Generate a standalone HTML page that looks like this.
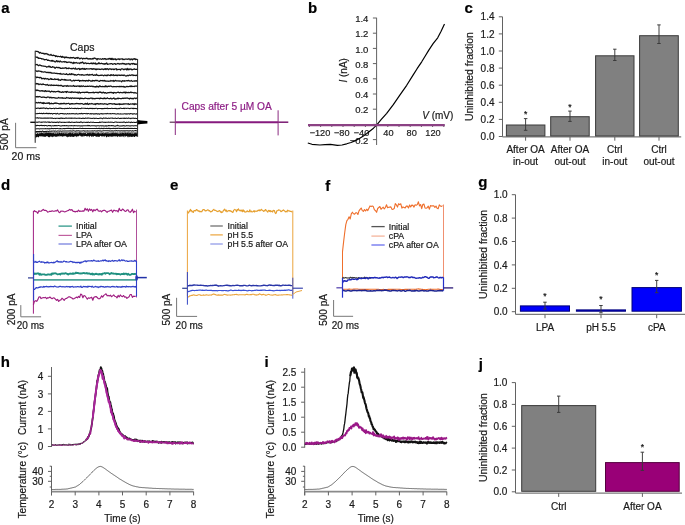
<!DOCTYPE html>
<html><head><meta charset="utf-8"><style>
html,body{margin:0;padding:0;background:#fff;width:685px;height:525px;overflow:hidden}
svg{display:block;filter:blur(0.35px)}
text{font-family:"Liberation Sans",sans-serif;stroke-width:0.2px}
</style></head><body>
<svg width="685" height="525" viewBox="0 0 685 525">
<rect width="685" height="525" fill="#fff"/>
<text x="1.2" y="13" font-size="15" text-anchor="start" fill="#000" stroke="#000" font-weight="bold">a</text>
<text x="308.1" y="12.6" font-size="15" text-anchor="start" fill="#000" stroke="#000" font-weight="bold">b</text>
<text x="464.6" y="12.6" font-size="15" text-anchor="start" fill="#000" stroke="#000" font-weight="bold">c</text>
<text x="0.9" y="189.6" font-size="15" text-anchor="start" fill="#000" stroke="#000" font-weight="bold">d</text>
<text x="169.9" y="190.1" font-size="15" text-anchor="start" fill="#000" stroke="#000" font-weight="bold">e</text>
<text x="325.2" y="190.6" font-size="15" text-anchor="start" fill="#000" stroke="#000" font-weight="bold">f</text>
<text x="478.2" y="187.3" font-size="15" text-anchor="start" fill="#000" stroke="#000" font-weight="bold">g</text>
<text x="0.8" y="367.2" font-size="15" text-anchor="start" fill="#000" stroke="#000" font-weight="bold">h</text>
<text x="264.6" y="367.3" font-size="15" text-anchor="start" fill="#000" stroke="#000" font-weight="bold">i</text>
<text x="478.7" y="369.1" font-size="15" text-anchor="start" fill="#000" stroke="#000" font-weight="bold">j</text>
<path d="M35.3,51 35.9,51.3 36.5,51.3 37.1,51.3 37.7,51.7 38.3,51.7 38.9,52.3 39.5,53 40.1,52.4 40.7,52.6 41.3,53.2 41.9,53.3 42.5,53.4 43.1,53.1 43.7,53.7 44.3,54.1 44.9,53.4 45.5,53.9 46.1,53.5 46.7,53.9 47.3,53.8 47.9,54.6 48.5,54.3 49.1,55 49.7,55.1 50.3,55.1 50.9,54.3 51.5,55.2 52.1,55.5 52.7,55.6 53.3,55.1 53.9,55.6 54.5,55.5 55.1,55.7 55.7,56.5 56.3,55.8 56.9,56.2 57.5,56.7 58.1,56.2 58.7,56.5 59.3,56.6 59.9,56.7 60.5,56.2 61.1,56.8 61.7,57.4 62.3,56.3 62.9,57.3 63.5,57.1 64.1,56.9 64.7,58 65.3,57.6 65.9,56.8 66.5,57.4 67.1,57.7 67.7,57.4 68.3,57.8 68.9,57.5 69.5,57.9 70.1,58.2 70.7,57.4 71.3,57.8 71.9,57.6 72.5,57.9 73.1,57.4 73.7,57.7 74.3,57.9 74.9,58.4 75.5,58.5 76.1,57.6 76.7,57.8 77.3,58.4 77.9,57.4 78.5,58 79.1,58.2 79.7,58.8 80.3,58.6 80.9,58.2 81.5,58.2 82.1,58.3 82.7,59 83.3,58.3 83.9,58.4 84.5,58.6 85.1,58.5 85.7,58.5 86.3,58.1 86.9,58.6 87.5,58.4 88.1,59.1 88.7,58.9 89.3,58.7 89.9,59 90.5,58.6 91.1,59.2 91.7,58.8 92.3,59 92.9,58.3 93.5,58.9 94.1,58.1 94.7,58 95.3,58.7 95.9,58.5 96.5,58.9 97.1,59.8 97.7,58.6 98.3,58.7 98.9,59 99.5,59.1 100.1,58.9 100.7,58.9 101.3,59.3 101.9,59.2 102.5,58.6 103.1,59 103.7,59 104.3,58.6 104.9,59.1 105.5,58.7 106.1,59.5 106.7,59.1 107.3,59.1 107.9,58.9 108.5,59.1 109.1,58.3 109.7,58.7 110.3,59.3 110.9,58.3 111.5,59.5 112.1,58.4 112.7,59.5 113.3,58.8 113.9,59.5 114.5,59.2 115.1,58.6 115.7,59.7 116.3,59.8 116.9,59.2 117.5,59.1 118.1,59.1 118.7,58.8 119.3,59.7 119.9,59 120.5,59.2 121.1,58.9 121.7,59 122.3,58.7 122.9,59.7 123.5,59.2 124.1,59.6 124.7,59.3 125.3,59 125.9,59.1 126.5,59 127.1,59.3 127.7,59.1 128.3,59.2 128.9,58.7 129.5,59 130.1,59.9 130.7,59 131.3,58.9 131.9,59.4 132.5,59.9 133.1,58.7 133.7,59.2 134.3,59.1 134.9,58.6 135.5,59.6 136.1,59.3 136.7,59.3 137.3,59" fill="none" stroke="#151515" stroke-width="1.25" stroke-linejoin="round"/>
<path d="M35.3,57.2 35.9,57 36.5,57.3 37.1,57.1 37.7,57.3 38.3,58.4 38.9,57.9 39.5,58.3 40.1,58.4 40.7,58.4 41.3,58.5 41.9,59.1 42.5,58.8 43.1,59 43.7,59.2 44.3,59.8 44.9,59.7 45.5,59.7 46.1,59.5 46.7,59.3 47.3,60.3 47.9,60.4 48.5,60.1 49.1,60.5 49.7,60.7 50.3,60.8 50.9,60.9 51.5,60.5 52.1,61.3 52.7,60.4 53.3,61.2 53.9,61.2 54.5,61.4 55.1,61.9 55.7,61.8 56.3,60.9 56.9,60.7 57.5,61.8 58.1,61.1 58.7,61.6 59.3,62 59.9,61.1 60.5,61 61.1,61.9 61.7,61.9 62.3,61.9 62.9,62 63.5,61.7 64.1,61.5 64.7,62.1 65.3,61.8 65.9,61.6 66.5,62.5 67.1,62.3 67.7,62.5 68.3,62.1 68.9,62.2 69.5,62.1 70.1,62.2 70.7,62.7 71.3,62.3 71.9,62.8 72.5,62.8 73.1,63.5 73.7,62.2 74.3,63.1 74.9,62.8 75.5,62.9 76.1,62.4 76.7,62.8 77.3,63.2 77.9,63 78.5,63 79.1,62.9 79.7,63.5 80.3,63.1 80.9,62.3 81.5,62.9 82.1,62.4 82.7,62 83.3,63 83.9,63.7 84.5,63.3 85.1,62.8 85.7,62.9 86.3,63.7 86.9,63.4 87.5,63.4 88.1,63.3 88.7,63.4 89.3,63.7 89.9,63.6 90.5,63.5 91.1,63 91.7,63.7 92.3,63.2 92.9,63.9 93.5,63 94.1,63.5 94.7,63.5 95.3,63 95.9,64.2 96.5,64.1 97.1,63.4 97.7,63.9 98.3,63.7 98.9,62.6 99.5,63.7 100.1,63.6 100.7,63.7 101.3,63.2 101.9,63.6 102.5,63.6 103.1,64.1 103.7,63.8 104.3,63.7 104.9,64.3 105.5,63.5 106.1,63.6 106.7,63 107.3,64.3 107.9,64.1 108.5,64.1 109.1,64 109.7,63.8 110.3,63.9 110.9,63.7 111.5,63.7 112.1,63.8 112.7,64.4 113.3,64 113.9,63.8 114.5,63.6 115.1,63.6 115.7,64.4 116.3,64 116.9,63.9 117.5,63.7 118.1,63.4 118.7,63.8 119.3,64.2 119.9,63.7 120.5,63.8 121.1,63.8 121.7,63.9 122.3,63.3 122.9,63.8 123.5,63.5 124.1,64.2 124.7,63.6 125.3,64.1 125.9,64.5 126.5,63.8 127.1,63.7 127.7,64 128.3,63.9 128.9,63.5 129.5,64.1 130.1,64.7 130.7,63.8 131.3,63.8 131.9,63.5 132.5,64 133.1,63.4 133.7,63.5 134.3,64.4 134.9,63.6 135.5,64.3 136.1,64.5 136.7,64 137.3,64.1" fill="none" stroke="#151515" stroke-width="1.25" stroke-linejoin="round"/>
<path d="M35.3,65.2 35.9,64.6 36.5,64.6 37.1,64.4 37.7,65 38.3,65.7 38.9,65.6 39.5,65 40.1,65.2 40.7,65.4 41.3,65.8 41.9,65.7 42.5,66 43.1,66.1 43.7,66 44.3,66.2 44.9,66.3 45.5,66.3 46.1,66.6 46.7,67.2 47.3,66.8 47.9,66.7 48.5,66.1 49.1,67 49.7,66.2 50.3,66.5 50.9,67.3 51.5,67.4 52.1,67.1 52.7,66.6 53.3,67.2 53.9,67.1 54.5,67.6 55.1,68.3 55.7,67.6 56.3,67.3 56.9,67.2 57.5,67.7 58.1,67.7 58.7,67.4 59.3,67.9 59.9,67.5 60.5,68.3 61.1,68.3 61.7,68.4 62.3,67.9 62.9,68.3 63.5,68.1 64.1,68 64.7,68.1 65.3,67.8 65.9,67.7 66.5,68.6 67.1,68.3 67.7,68.4 68.3,68.7 68.9,67.8 69.5,68.2 70.1,68.5 70.7,68.6 71.3,68.4 71.9,68.9 72.5,68.7 73.1,68.2 73.7,68.3 74.3,68.9 74.9,68.8 75.5,68 76.1,69.2 76.7,69 77.3,69.2 77.9,68.6 78.5,68.7 79.1,68.4 79.7,69.7 80.3,68.8 80.9,69.4 81.5,68.7 82.1,69 82.7,68.3 83.3,68.8 83.9,69.3 84.5,68.5 85.1,69.4 85.7,69.1 86.3,68.6 86.9,68.8 87.5,68.9 88.1,69 88.7,68.9 89.3,68.8 89.9,69 90.5,68.7 91.1,68.6 91.7,69.1 92.3,69.4 92.9,68.6 93.5,69.1 94.1,68.9 94.7,68.8 95.3,69.5 95.9,69 96.5,69.7 97.1,68.9 97.7,69.3 98.3,69.1 98.9,69 99.5,69.4 100.1,69.2 100.7,69.5 101.3,69.2 101.9,68.9 102.5,69.2 103.1,69.3 103.7,69.6 104.3,69 104.9,69.3 105.5,68.7 106.1,69.5 106.7,68.9 107.3,68.7 107.9,69.3 108.5,69.7 109.1,68.8 109.7,68.9 110.3,69.1 110.9,68.9 111.5,69.5 112.1,69.1 112.7,69.1 113.3,69.6 113.9,69.1 114.5,69.5 115.1,69 115.7,68.9 116.3,68.7 116.9,70 117.5,69.3 118.1,69.5 118.7,69.4 119.3,69.4 119.9,69.4 120.5,70.1 121.1,69 121.7,68.8 122.3,69 122.9,68.9 123.5,69.7 124.1,69.7 124.7,69.1 125.3,68.9 125.9,69.3 126.5,69.9 127.1,68.4 127.7,69.6 128.3,69 128.9,69.8 129.5,69 130.1,69.3 130.7,68.9 131.3,69.1 131.9,69.9 132.5,69.7 133.1,69.3 133.7,69.1 134.3,68.8 134.9,69.3 135.5,69.4 136.1,69.4 136.7,69.4 137.3,69" fill="none" stroke="#151515" stroke-width="1.25" stroke-linejoin="round"/>
<path d="M35.3,70.5 35.9,70.6 36.5,71.2 37.1,71.5 37.7,71 38.3,70.9 38.9,71.2 39.5,71.1 40.1,71.2 40.7,71.5 41.3,71.3 41.9,72 42.5,71.8 43.1,72 43.7,72 44.3,71.9 44.9,71.9 45.5,72.2 46.1,72.2 46.7,72.6 47.3,72.6 47.9,72.2 48.5,72.7 49.1,72.3 49.7,72.6 50.3,72.8 50.9,72.3 51.5,73.1 52.1,73.2 52.7,73.1 53.3,73.1 53.9,73.2 54.5,73 55.1,73.3 55.7,73.3 56.3,73.5 56.9,73.2 57.5,73.7 58.1,73.7 58.7,73.7 59.3,73.6 59.9,74 60.5,73.3 61.1,74 61.7,74 62.3,74.1 62.9,74.1 63.5,73.8 64.1,74 64.7,74.3 65.3,74.3 65.9,74.3 66.5,73.7 67.1,74.4 67.7,74.7 68.3,74.6 68.9,74.4 69.5,73.8 70.1,74.7 70.7,74.4 71.3,73.6 71.9,74.6 72.5,74 73.1,74.1 73.7,74.3 74.3,75 74.9,74.5 75.5,74.7 76.1,75.2 76.7,75.2 77.3,74.6 77.9,74.6 78.5,74.3 79.1,74.5 79.7,74.9 80.3,74.9 80.9,74.8 81.5,75.1 82.1,74.6 82.7,74.8 83.3,75.1 83.9,75.1 84.5,75.2 85.1,75 85.7,74.8 86.3,75 86.9,74.6 87.5,74.4 88.1,75.2 88.7,74.9 89.3,75.1 89.9,74.4 90.5,74.9 91.1,74.8 91.7,74.7 92.3,74.3 92.9,74.9 93.5,75.4 94.1,75.2 94.7,74.9 95.3,75.1 95.9,75.3 96.5,74.2 97.1,75.1 97.7,75.3 98.3,75.4 98.9,75.7 99.5,75.5 100.1,75.2 100.7,75.3 101.3,75.4 101.9,75 102.5,75.2 103.1,75.5 103.7,75.8 104.3,75.1 104.9,75.2 105.5,75.3 106.1,75.7 106.7,75.2 107.3,75.7 107.9,74.9 108.5,75.2 109.1,75.2 109.7,75.5 110.3,75.6 110.9,74.7 111.5,74.9 112.1,75.4 112.7,75 113.3,74.7 113.9,75.6 114.5,75.4 115.1,75.4 115.7,75.1 116.3,75.6 116.9,75.2 117.5,75.7 118.1,75 118.7,75 119.3,75.4 119.9,75.1 120.5,75.5 121.1,75.4 121.7,75 122.3,75.3 122.9,75.2 123.5,75.6 124.1,75.1 124.7,75.2 125.3,75.7 125.9,76.1 126.5,76 127.1,75.3 127.7,75.4 128.3,75.8 128.9,75.3 129.5,75 130.1,75.4 130.7,75.5 131.3,75.1 131.9,74.8 132.5,74.9 133.1,75.6 133.7,75.1 134.3,75.3 134.9,75.4 135.5,75.6 136.1,75.2 136.7,75.5 137.3,75" fill="none" stroke="#151515" stroke-width="1.25" stroke-linejoin="round"/>
<path d="M35.3,76.9 35.9,76.8 36.5,77.6 37.1,77.3 37.7,77.2 38.3,77.4 38.9,77.5 39.5,77.9 40.1,77.3 40.7,77.6 41.3,77.9 41.9,78.9 42.5,78.5 43.1,78.2 43.7,78.5 44.3,79 44.9,78.4 45.5,78.4 46.1,79 46.7,78.8 47.3,78.9 47.9,78.6 48.5,79.5 49.1,79.5 49.7,79.2 50.3,79.2 50.9,78.4 51.5,79.3 52.1,79.1 52.7,79.4 53.3,79.5 53.9,79.2 54.5,78.8 55.1,79.6 55.7,79.2 56.3,79.4 56.9,79.4 57.5,79.5 58.1,78.9 58.7,80.1 59.3,79.8 59.9,80.1 60.5,80.4 61.1,79.8 61.7,79.3 62.3,79.6 62.9,79.5 63.5,79.8 64.1,80 64.7,79.4 65.3,80.2 65.9,79.6 66.5,80.2 67.1,80.1 67.7,80.1 68.3,80.2 68.9,80 69.5,80 70.1,79.7 70.7,80.3 71.3,80.9 71.9,81 72.5,80.8 73.1,80.6 73.7,80.2 74.3,80.9 74.9,80.4 75.5,80.4 76.1,80.4 76.7,80.5 77.3,80.4 77.9,80.5 78.5,80.2 79.1,80.4 79.7,81.3 80.3,80.5 80.9,80.5 81.5,80.8 82.1,80.8 82.7,80.3 83.3,80.6 83.9,80.9 84.5,80.7 85.1,80.7 85.7,81.2 86.3,80.5 86.9,80.7 87.5,80.6 88.1,81.2 88.7,80.1 89.3,80.5 89.9,80.6 90.5,81 91.1,81 91.7,81.2 92.3,80.3 92.9,81 93.5,80.7 94.1,80.6 94.7,81 95.3,80.5 95.9,80.2 96.5,80.7 97.1,80.4 97.7,80.7 98.3,81 98.9,81 99.5,81.4 100.1,80.8 100.7,80.4 101.3,80.7 101.9,80.6 102.5,80.5 103.1,81.1 103.7,80.7 104.3,80.3 104.9,81.1 105.5,80.9 106.1,81.1 106.7,81 107.3,81.1 107.9,81 108.5,81.3 109.1,81.1 109.7,81.1 110.3,81.1 110.9,80.5 111.5,80.9 112.1,80.9 112.7,81 113.3,80.5 113.9,81.5 114.5,81 115.1,80.6 115.7,80.4 116.3,80.9 116.9,81 117.5,80.8 118.1,81 118.7,80.8 119.3,81.2 119.9,80.8 120.5,81 121.1,81.3 121.7,81.8 122.3,80.7 122.9,80.9 123.5,80.8 124.1,81.3 124.7,80.7 125.3,80.9 125.9,81 126.5,80.7 127.1,80.7 127.7,80.9 128.3,80.4 128.9,80.6 129.5,80.9 130.1,81.1 130.7,81 131.3,80.5 131.9,80.9 132.5,81.3 133.1,81.2 133.7,81 134.3,80.8 134.9,81.3 135.5,80.9 136.1,80.7 136.7,80.8 137.3,81.5" fill="none" stroke="#151515" stroke-width="1.25" stroke-linejoin="round"/>
<path d="M35.3,83.6 35.9,83.9 36.5,83.5 37.1,84 37.7,83.6 38.3,83.8 38.9,84.7 39.5,84.3 40.1,84 40.7,84.1 41.3,84.3 41.9,84.7 42.5,84.2 43.1,83.9 43.7,84.4 44.3,84.5 44.9,84.6 45.5,85 46.1,84.8 46.7,85 47.3,84.5 47.9,85.1 48.5,85.5 49.1,85.2 49.7,85.1 50.3,85.1 50.9,85.6 51.5,84.8 52.1,85.1 52.7,85.3 53.3,85.5 53.9,85.1 54.5,85.4 55.1,85.3 55.7,85.4 56.3,85.4 56.9,85.1 57.5,85.5 58.1,85.8 58.7,85.2 59.3,85.5 59.9,85.8 60.5,85.3 61.1,85.7 61.7,85.3 62.3,86 62.9,86.4 63.5,86.3 64.1,85.7 64.7,86 65.3,85.8 65.9,85.9 66.5,86.3 67.1,85.5 67.7,86.2 68.3,85.9 68.9,86.3 69.5,86 70.1,85.8 70.7,86.1 71.3,86.2 71.9,86 72.5,86.2 73.1,85.9 73.7,85.4 74.3,86.3 74.9,86.3 75.5,86.1 76.1,86.1 76.7,86.4 77.3,86 77.9,85.9 78.5,86.1 79.1,86.5 79.7,85.8 80.3,86.6 80.9,86 81.5,85.9 82.1,86.6 82.7,86.2 83.3,85.9 83.9,86.2 84.5,86.5 85.1,86.6 85.7,86.2 86.3,86.4 86.9,86.5 87.5,86.1 88.1,86.4 88.7,86.3 89.3,86.2 89.9,86.2 90.5,86.4 91.1,86.4 91.7,86.2 92.3,86.2 92.9,86.7 93.5,86.4 94.1,86.7 94.7,86.8 95.3,86.6 95.9,87.1 96.5,86.2 97.1,86.7 97.7,86.3 98.3,87 98.9,86.9 99.5,85.8 100.1,86.1 100.7,86.6 101.3,86.7 101.9,86.7 102.5,86.4 103.1,86.6 103.7,86.7 104.3,86.4 104.9,86.8 105.5,85.8 106.1,86.7 106.7,86.2 107.3,86.8 107.9,86.4 108.5,86.2 109.1,86.6 109.7,86.2 110.3,86.2 110.9,86 111.5,86.5 112.1,86.7 112.7,86.8 113.3,86.5 113.9,86.8 114.5,86.5 115.1,86.5 115.7,86.7 116.3,86.8 116.9,86.4 117.5,86.5 118.1,86.5 118.7,86.6 119.3,86.3 119.9,86.8 120.5,86.4 121.1,86.7 121.7,86.3 122.3,86.6 122.9,86.7 123.5,86.4 124.1,87.2 124.7,86.7 125.3,87.1 125.9,86.8 126.5,86.4 127.1,86.4 127.7,86.7 128.3,86.6 128.9,86.6 129.5,86.5 130.1,86 130.7,86.5 131.3,85.9 131.9,86.7 132.5,86.3 133.1,86.3 133.7,86.5 134.3,86.6 134.9,86.1 135.5,86 136.1,86.2 136.7,86 137.3,86.3" fill="none" stroke="#151515" stroke-width="1.25" stroke-linejoin="round"/>
<path d="M35.3,90.6 35.9,90 36.5,90.5 37.1,90 37.7,90.5 38.3,90.4 38.9,90.6 39.5,90.8 40.1,91.2 40.7,90.8 41.3,90.8 41.9,90.6 42.5,91.1 43.1,90.9 43.7,91.2 44.3,91 44.9,91.6 45.5,90.6 46.1,91.1 46.7,91.5 47.3,91.2 47.9,91.1 48.5,91.3 49.1,91 49.7,91.4 50.3,92.1 50.9,91.8 51.5,91.2 52.1,91.3 52.7,91.5 53.3,91.9 53.9,91.4 54.5,91.5 55.1,91.9 55.7,92 56.3,91.6 56.9,91.5 57.5,91.4 58.1,91.6 58.7,91.2 59.3,92.1 59.9,91.7 60.5,92 61.1,92.4 61.7,92.3 62.3,91.6 62.9,92.2 63.5,92.3 64.1,91.8 64.7,91.8 65.3,92 65.9,91.6 66.5,92.5 67.1,91.4 67.7,91.8 68.3,92.1 68.9,92.1 69.5,92.2 70.1,92.3 70.7,92.1 71.3,92.5 71.9,91.6 72.5,92.2 73.1,92.1 73.7,92.3 74.3,92.3 74.9,92 75.5,92.1 76.1,92.5 76.7,92.4 77.3,92.1 77.9,92.9 78.5,93 79.1,91.9 79.7,92.5 80.3,93.1 80.9,92.6 81.5,92.5 82.1,92.3 82.7,92.3 83.3,92.4 83.9,92.3 84.5,92.6 85.1,92.3 85.7,92.3 86.3,92.1 86.9,92.4 87.5,92.2 88.1,92.4 88.7,92.8 89.3,92.6 89.9,92.6 90.5,92.6 91.1,92.5 91.7,92.5 92.3,92.4 92.9,92.7 93.5,92.2 94.1,92.9 94.7,92.5 95.3,92.3 95.9,92.4 96.5,92.4 97.1,92.6 97.7,92.4 98.3,92.9 98.9,92.3 99.5,91.9 100.1,92.4 100.7,92 101.3,92.6 101.9,92.9 102.5,92.8 103.1,92.2 103.7,92.4 104.3,93.1 104.9,92.7 105.5,92.6 106.1,92.9 106.7,93.3 107.3,93 107.9,92.6 108.5,92.7 109.1,92.8 109.7,92.4 110.3,92.3 110.9,92.6 111.5,92.4 112.1,92.6 112.7,92.7 113.3,93.3 113.9,92.4 114.5,92.6 115.1,92.6 115.7,92.8 116.3,92.9 116.9,92.5 117.5,92.4 118.1,92.2 118.7,92.4 119.3,92.8 119.9,92.7 120.5,92.4 121.1,92.5 121.7,92.7 122.3,92.8 122.9,92.5 123.5,92.6 124.1,92.1 124.7,92.3 125.3,93.1 125.9,92 126.5,92.6 127.1,92.7 127.7,92.6 128.3,92.4 128.9,92.6 129.5,92.7 130.1,92.6 130.7,92.1 131.3,92.6 131.9,92.4 132.5,92.5 133.1,92.7 133.7,92.9 134.3,92.9 134.9,92.5 135.5,92.9 136.1,93 136.7,93 137.3,93.1" fill="none" stroke="#151515" stroke-width="1.25" stroke-linejoin="round"/>
<path d="M35.3,96.6 35.9,96.6 36.5,96.9 37.1,96.4 37.7,96.9 38.3,96.7 38.9,96.8 39.5,96.5 40.1,96.7 40.7,97 41.3,97.3 41.9,97.3 42.5,97.1 43.1,97.1 43.7,97 44.3,97.3 44.9,97.2 45.5,97.5 46.1,97.8 46.7,97.4 47.3,97 47.9,97.2 48.5,97.1 49.1,97.2 49.7,97.9 50.3,97.6 50.9,97.2 51.5,97.8 52.1,97.9 52.7,97.5 53.3,97.5 53.9,97.6 54.5,97.8 55.1,97.9 55.7,98.1 56.3,98.1 56.9,98.1 57.5,98.2 58.1,98 58.7,97.4 59.3,97.8 59.9,98 60.5,97.8 61.1,98.1 61.7,97.8 62.3,97.7 62.9,98.3 63.5,98.1 64.1,98 64.7,98.2 65.3,98.3 65.9,98.1 66.5,97.4 67.1,97.9 67.7,97.9 68.3,97.8 68.9,98.1 69.5,98.4 70.1,98 70.7,97.8 71.3,98.7 71.9,98 72.5,97.8 73.1,98.2 73.7,98.3 74.3,98 74.9,98.4 75.5,98.1 76.1,98 76.7,98.3 77.3,98.4 77.9,98.1 78.5,98.3 79.1,98.2 79.7,99 80.3,98.1 80.9,98.6 81.5,98.3 82.1,98.2 82.7,98.5 83.3,98.5 83.9,98.6 84.5,98.4 85.1,98.1 85.7,98.2 86.3,98.4 86.9,98.5 87.5,98.7 88.1,98.4 88.7,98.6 89.3,98.7 89.9,98.4 90.5,98 91.1,98 91.7,98 92.3,98.8 92.9,98.1 93.5,98.7 94.1,98.5 94.7,98.8 95.3,98.6 95.9,98.4 96.5,98.3 97.1,98.4 97.7,98.4 98.3,98.3 98.9,98.4 99.5,98.8 100.1,98 100.7,98.5 101.3,98.2 101.9,98.5 102.5,98.6 103.1,98.4 103.7,98.6 104.3,98 104.9,98.7 105.5,98.3 106.1,98.6 106.7,98.5 107.3,97.8 107.9,98.2 108.5,98.5 109.1,98.8 109.7,98.5 110.3,98.5 110.9,98.1 111.5,98.8 112.1,98.9 112.7,98.5 113.3,98.4 113.9,98 114.5,98.7 115.1,99.2 115.7,98.6 116.3,98.8 116.9,98.6 117.5,98.2 118.1,98.8 118.7,98.1 119.3,98.4 119.9,98.5 120.5,98.7 121.1,98.6 121.7,98.6 122.3,98.3 122.9,98.1 123.5,98.5 124.1,98.3 124.7,98.1 125.3,98.1 125.9,98.3 126.5,98 127.1,98.1 127.7,98 128.3,98.5 128.9,98.6 129.5,99 130.1,98.1 130.7,98.3 131.3,98.7 131.9,98.4 132.5,98.4 133.1,98.9 133.7,98.4 134.3,98.2 134.9,98.1 135.5,98.6 136.1,98.6 136.7,98.1 137.3,98.2" fill="none" stroke="#151515" stroke-width="1.25" stroke-linejoin="round"/>
<path d="M35.3,102.7 35.9,102.8 36.5,102.5 37.1,102.9 37.7,102.9 38.3,102.4 38.9,102.7 39.5,102.9 40.1,102.7 40.7,102.4 41.3,102.9 41.9,103.1 42.5,103.4 43.1,102.5 43.7,103.7 44.3,102.8 44.9,103.3 45.5,103.4 46.1,103.4 46.7,103.2 47.3,102.9 47.9,103.4 48.5,103.1 49.1,102.6 49.7,104 50.3,103.5 50.9,103.7 51.5,103.1 52.1,103.7 52.7,103.7 53.3,103.8 53.9,103.4 54.5,103.1 55.1,103.4 55.7,102.9 56.3,103.1 56.9,103.5 57.5,103.3 58.1,103.5 58.7,103.5 59.3,104 59.9,103.9 60.5,103.5 61.1,103.9 61.7,103.4 62.3,103.5 62.9,103.8 63.5,103.3 64.1,103.6 64.7,103.3 65.3,103.7 65.9,104 66.5,103.5 67.1,103.7 67.7,103.5 68.3,103.4 68.9,103.4 69.5,104.1 70.1,104.3 70.7,103.8 71.3,103.6 71.9,103.9 72.5,103.7 73.1,103.9 73.7,103.8 74.3,103.8 74.9,103.9 75.5,103.6 76.1,103.7 76.7,103.4 77.3,103.7 77.9,103.5 78.5,103.8 79.1,103.6 79.7,103.8 80.3,103.9 80.9,103.5 81.5,103.6 82.1,103.6 82.7,104 83.3,104.3 83.9,104.1 84.5,103.8 85.1,104.2 85.7,103.5 86.3,104.2 86.9,103.7 87.5,103.2 88.1,104.5 88.7,104.3 89.3,103.6 89.9,103.9 90.5,103.8 91.1,103.9 91.7,103.5 92.3,103.7 92.9,104 93.5,104 94.1,104.2 94.7,103.9 95.3,104.5 95.9,103.7 96.5,104 97.1,103.5 97.7,103.6 98.3,104.2 98.9,103.7 99.5,104.1 100.1,103.9 100.7,103.7 101.3,103.8 101.9,103.8 102.5,103.8 103.1,104.1 103.7,104.1 104.3,103.8 104.9,103.7 105.5,104 106.1,103.9 106.7,104.2 107.3,104.6 107.9,104.2 108.5,103.9 109.1,103.9 109.7,103.7 110.3,103.7 110.9,103.7 111.5,103.9 112.1,103.9 112.7,104.1 113.3,103.9 113.9,103.9 114.5,103.7 115.1,104.4 115.7,104.1 116.3,104.4 116.9,104.2 117.5,104.3 118.1,103.9 118.7,104.1 119.3,104.6 119.9,103.7 120.5,104.3 121.1,104.4 121.7,104.1 122.3,104.2 122.9,104.3 123.5,103.8 124.1,104.1 124.7,103.8 125.3,103.8 125.9,103.8 126.5,103.9 127.1,104 127.7,104.1 128.3,103.6 128.9,104.5 129.5,104.3 130.1,104.2 130.7,103.9 131.3,104 131.9,104.1 132.5,104.1 133.1,103.6 133.7,104.2 134.3,104.7 134.9,103.5 135.5,104.2 136.1,104.1 136.7,104 137.3,104.3" fill="none" stroke="#151515" stroke-width="1.25" stroke-linejoin="round"/>
<path d="M35.3,107.9 35.9,108.2 36.5,108.5 37.1,108.2 37.7,108.1 38.3,108.3 38.9,108.1 39.5,108.6 40.1,108.1 40.7,108.5 41.3,108 41.9,108.4 42.5,108.3 43.1,107.7 43.7,108.3 44.3,108.1 44.9,108.2 45.5,108.7 46.1,108.1 46.7,108.1 47.3,108.7 47.9,108.4 48.5,108.7 49.1,108.4 49.7,108.1 50.3,108.3 50.9,108.6 51.5,108.6 52.1,108.4 52.7,108.4 53.3,108.3 53.9,108.2 54.5,108.8 55.1,108.4 55.7,108.1 56.3,108.3 56.9,108.6 57.5,108.5 58.1,108.4 58.7,108.2 59.3,108.4 59.9,108 60.5,108.1 61.1,108.6 61.7,108.3 62.3,108.5 62.9,108.7 63.5,108.6 64.1,108.4 64.7,108.9 65.3,108.6 65.9,108.3 66.5,108.6 67.1,108.5 67.7,108.2 68.3,108.4 68.9,108.4 69.5,108 70.1,108.4 70.7,108.4 71.3,108.3 71.9,108.1 72.5,108.4 73.1,108.4 73.7,108.5 74.3,108.2 74.9,108.6 75.5,108.2 76.1,108.4 76.7,108.7 77.3,108.3 77.9,108.3 78.5,108.7 79.1,108.4 79.7,108.4 80.3,108.5 80.9,108.7 81.5,108 82.1,108.3 82.7,108.2 83.3,108.2 83.9,108.3 84.5,108.3 85.1,108.5 85.7,108.3 86.3,108.5 86.9,108.6 87.5,108.3 88.1,108.5 88.7,108.8 89.3,108.5 89.9,108.3 90.5,108.5 91.1,108.3 91.7,108.5 92.3,108.7 92.9,108.3 93.5,108.4 94.1,108.7 94.7,108.4 95.3,108.5 95.9,108.3 96.5,108.3 97.1,108.4 97.7,109 98.3,108.4 98.9,108.4 99.5,108.4 100.1,108.4 100.7,108.6 101.3,108.5 101.9,108.9 102.5,108.5 103.1,108.8 103.7,108.5 104.3,108.6 104.9,108.2 105.5,108.5 106.1,108.5 106.7,108.4 107.3,108 107.9,108.7 108.5,108.4 109.1,108.4 109.7,108.4 110.3,108.4 110.9,108.6 111.5,108.2 112.1,108.3 112.7,108.6 113.3,108.5 113.9,108.4 114.5,108.4 115.1,108.3 115.7,108.5 116.3,108.8 116.9,108.3 117.5,108.8 118.1,108.7 118.7,108.4 119.3,108.7 119.9,108.2 120.5,108.1 121.1,108.2 121.7,108.4 122.3,108.4 122.9,108.4 123.5,108.5 124.1,108 124.7,108.6 125.3,108.2 125.9,108.3 126.5,108.4 127.1,108.2 127.7,108.2 128.3,108.3 128.9,108.5 129.5,108.6 130.1,108.6 130.7,108.3 131.3,108.3 131.9,108.3 132.5,108.6 133.1,108 133.7,108.8 134.3,108.4 134.9,108.3 135.5,108.6 136.1,108.7 136.7,108.6 137.3,108.7" fill="none" stroke="#151515" stroke-width="1.05" stroke-linejoin="round"/>
<path d="M35.3,113.4 35.9,113.7 36.5,113.7 37.1,113.4 37.7,113.7 38.3,113.5 38.9,113.5 39.5,113.3 40.1,113.4 40.7,113.6 41.3,113.2 41.9,113.6 42.5,113.6 43.1,113.6 43.7,113.1 44.3,113.5 44.9,113.7 45.5,113.4 46.1,113.6 46.7,113.1 47.3,113.7 47.9,113.4 48.5,113.8 49.1,113.2 49.7,113.7 50.3,113.6 50.9,113.8 51.5,113.4 52.1,113.5 52.7,114.1 53.3,113.5 53.9,113.5 54.5,113.6 55.1,113.4 55.7,113.9 56.3,114 56.9,113.5 57.5,113.3 58.1,113.9 58.7,113.9 59.3,113.8 59.9,113.9 60.5,113.5 61.1,113.6 61.7,113.4 62.3,113.4 62.9,113.9 63.5,113.6 64.1,114.1 64.7,113.7 65.3,113.6 65.9,113.9 66.5,114.1 67.1,113.8 67.7,113.5 68.3,113.8 68.9,114 69.5,113.6 70.1,113.6 70.7,113.9 71.3,113.8 71.9,113.5 72.5,113.7 73.1,113.6 73.7,113.8 74.3,113.8 74.9,114 75.5,113.9 76.1,113.4 76.7,113.8 77.3,113.9 77.9,113.8 78.5,113.9 79.1,113.6 79.7,113.6 80.3,113.9 80.9,113.5 81.5,113.3 82.1,114 82.7,113.6 83.3,113.7 83.9,113.5 84.5,113.5 85.1,113.5 85.7,113.7 86.3,113.8 86.9,113.3 87.5,113.9 88.1,113.5 88.7,113.6 89.3,113.9 89.9,113.8 90.5,113.5 91.1,114.1 91.7,113.6 92.3,113.8 92.9,113.8 93.5,114.1 94.1,113.7 94.7,114 95.3,113.6 95.9,114 96.5,113.6 97.1,113.7 97.7,114.2 98.3,113.8 98.9,113.8 99.5,114.2 100.1,113.9 100.7,113.6 101.3,113.9 101.9,113.5 102.5,114 103.1,114 103.7,113.7 104.3,113.7 104.9,113.8 105.5,113.8 106.1,113.6 106.7,113.9 107.3,113.4 107.9,113.7 108.5,113.7 109.1,113.7 109.7,113.8 110.3,113.5 110.9,113.9 111.5,113.8 112.1,113.7 112.7,113.5 113.3,113.6 113.9,113.9 114.5,113.6 115.1,113.8 115.7,114 116.3,114 116.9,114.1 117.5,113.7 118.1,113.6 118.7,114 119.3,113.9 119.9,114 120.5,113.8 121.1,114 121.7,114 122.3,113.9 122.9,113.9 123.5,113.9 124.1,113.8 124.7,113.8 125.3,114 125.9,113.7 126.5,114.1 127.1,113.8 127.7,114 128.3,113.8 128.9,113.7 129.5,114.2 130.1,113.7 130.7,113.5 131.3,113.7 131.9,113.7 132.5,114.2 133.1,113.8 133.7,114 134.3,113.6 134.9,113.9 135.5,113.9 136.1,114.2 136.7,113.7 137.3,113.9" fill="none" stroke="#151515" stroke-width="1.05" stroke-linejoin="round"/>
<path d="M35.3,118.1 35.9,117.8 36.5,118 37.1,118 37.7,117.6 38.3,118.1 38.9,118.1 39.5,118 40.1,117.8 40.7,118.3 41.3,118.1 41.9,118.3 42.5,118.3 43.1,118 43.7,118.2 44.3,118.1 44.9,118.1 45.5,118.1 46.1,118.1 46.7,118.3 47.3,118.1 47.9,118.1 48.5,118.1 49.1,118.2 49.7,118 50.3,118.1 50.9,118.1 51.5,118.1 52.1,118.1 52.7,118.1 53.3,118.5 53.9,118.4 54.5,118.3 55.1,118.2 55.7,118.6 56.3,118.2 56.9,118.2 57.5,118.2 58.1,118.2 58.7,118.5 59.3,118.2 59.9,118.6 60.5,118 61.1,118.3 61.7,118 62.3,118.5 62.9,118.2 63.5,118.2 64.1,118.4 64.7,118.4 65.3,118 65.9,118.2 66.5,118 67.1,118.3 67.7,118.2 68.3,118.2 68.9,118.1 69.5,118.2 70.1,118.1 70.7,118.3 71.3,118.5 71.9,117.9 72.5,118.2 73.1,118.2 73.7,118.3 74.3,118.1 74.9,118.2 75.5,118.1 76.1,118.4 76.7,118.3 77.3,118.2 77.9,118.3 78.5,118.2 79.1,118 79.7,118.4 80.3,118.3 80.9,118.2 81.5,118.4 82.1,118.5 82.7,118.1 83.3,118.1 83.9,118.5 84.5,118.5 85.1,118.1 85.7,118.1 86.3,118.2 86.9,118.2 87.5,118 88.1,118.3 88.7,118 89.3,118.1 89.9,118.4 90.5,118.2 91.1,118.3 91.7,118.4 92.3,118.4 92.9,118.2 93.5,118.3 94.1,118.1 94.7,118.6 95.3,118.4 95.9,118.1 96.5,118.3 97.1,118.4 97.7,118.4 98.3,118.6 98.9,118.5 99.5,118.2 100.1,118.3 100.7,118.1 101.3,118.3 101.9,118.3 102.5,118.8 103.1,118.3 103.7,117.9 104.3,118.2 104.9,118.3 105.5,118.1 106.1,118.1 106.7,118.2 107.3,118.4 107.9,118.3 108.5,118.1 109.1,118.4 109.7,118.2 110.3,118.2 110.9,118 111.5,118.1 112.1,118.4 112.7,118 113.3,118.3 113.9,118.4 114.5,118.2 115.1,118.3 115.7,118.1 116.3,118.5 116.9,118.5 117.5,118.3 118.1,118 118.7,118.1 119.3,118.5 119.9,118.6 120.5,118.3 121.1,118.5 121.7,118.2 122.3,118.3 122.9,118.3 123.5,118.4 124.1,118 124.7,118.5 125.3,118.5 125.9,118.1 126.5,118.1 127.1,118.4 127.7,118.2 128.3,117.9 128.9,118.4 129.5,118.3 130.1,118.2 130.7,118.7 131.3,118.3 131.9,118.2 132.5,118.3 133.1,118.1 133.7,118.2 134.3,118.4 134.9,118.2 135.5,118.2 136.1,118.6 136.7,118.5 137.3,118.4" fill="none" stroke="#151515" stroke-width="1.05" stroke-linejoin="round"/>
<path d="M35.3,122.2 35.9,122.2 36.5,122.3 37.1,122.1 37.7,122.4 38.3,122 38.9,122.1 39.5,121.9 40.1,122.1 40.7,122.2 41.3,122.4 41.9,122 42.5,122.2 43.1,122.1 43.7,122 44.3,122 44.9,122.2 45.5,121.9 46.1,122.2 46.7,122.2 47.3,122.1 47.9,122 48.5,122 49.1,122.5 49.7,122 50.3,122.4 50.9,122.3 51.5,122.1 52.1,122 52.7,122.4 53.3,122.5 53.9,122.1 54.5,122.2 55.1,122.4 55.7,122.3 56.3,122.5 56.9,122.1 57.5,122.3 58.1,122 58.7,122.6 59.3,122.1 59.9,121.9 60.5,122.2 61.1,122.2 61.7,122.5 62.3,122.2 62.9,122.2 63.5,122.3 64.1,122.5 64.7,122.2 65.3,122.4 65.9,122.3 66.5,122.2 67.1,122.3 67.7,122.3 68.3,122.1 68.9,122.5 69.5,122 70.1,122.4 70.7,122.4 71.3,122.2 71.9,122.1 72.5,122.2 73.1,122.3 73.7,122.4 74.3,122.3 74.9,122.4 75.5,122.2 76.1,122.3 76.7,122 77.3,122.4 77.9,122.3 78.5,122.2 79.1,122.5 79.7,122.4 80.3,121.8 80.9,122.3 81.5,122 82.1,122.4 82.7,122.7 83.3,122.2 83.9,122.3 84.5,122.2 85.1,122.3 85.7,122.4 86.3,122.5 86.9,122.1 87.5,122.5 88.1,122.1 88.7,122.3 89.3,122.5 89.9,122.4 90.5,122.1 91.1,122.2 91.7,122.2 92.3,122.3 92.9,122.5 93.5,122.1 94.1,122.4 94.7,122.4 95.3,122.4 95.9,122.4 96.5,122.5 97.1,122.4 97.7,122.4 98.3,122.4 98.9,122.6 99.5,122 100.1,122.5 100.7,122.2 101.3,122.2 101.9,122.1 102.5,122 103.1,122.2 103.7,122.2 104.3,122.4 104.9,122.1 105.5,122.5 106.1,122.3 106.7,122.3 107.3,122.2 107.9,122.2 108.5,122.1 109.1,122.2 109.7,122.3 110.3,122.3 110.9,122.1 111.5,122.3 112.1,122.2 112.7,122.3 113.3,122.6 113.9,122.4 114.5,122.2 115.1,122 115.7,122.1 116.3,122 116.9,122.4 117.5,122.2 118.1,122.3 118.7,122.2 119.3,122.3 119.9,122.5 120.5,122.2 121.1,122.2 121.7,122.2 122.3,122.4 122.9,122.1 123.5,122.1 124.1,122.1 124.7,122.1 125.3,122.4 125.9,122.7 126.5,122.1 127.1,122.4 127.7,122.3 128.3,122.1 128.9,122.3 129.5,122.3 130.1,122.2 130.7,122.6 131.3,122 131.9,122.4 132.5,122.4 133.1,122.2 133.7,122.3 134.3,122.4 134.9,122.3 135.5,122.4 136.1,122.4 136.7,122 137.3,122.5" fill="none" stroke="#151515" stroke-width="1.05" stroke-linejoin="round"/>
<path d="M35.3,125.8 35.9,125.6 36.5,125.7 37.1,125.3 37.7,125.5 38.3,125.4 38.9,125.5 39.5,125.7 40.1,125.4 40.7,125.5 41.3,125.3 41.9,125.6 42.5,125.6 43.1,125.5 43.7,125.5 44.3,125.9 44.9,125.4 45.5,125.5 46.1,125.5 46.7,125.8 47.3,125.9 47.9,125.7 48.5,125.5 49.1,125.6 49.7,125.8 50.3,125.5 50.9,125.9 51.5,125.9 52.1,125.7 52.7,125.8 53.3,125.8 53.9,125.9 54.5,125.5 55.1,125.8 55.7,125.6 56.3,125.6 56.9,125.7 57.5,125.7 58.1,125.6 58.7,125.5 59.3,125.6 59.9,125.9 60.5,126 61.1,125.8 61.7,125.9 62.3,125.6 62.9,125.7 63.5,125.8 64.1,125.6 64.7,125.6 65.3,125.7 65.9,125.7 66.5,125.6 67.1,125.8 67.7,125.7 68.3,125.9 68.9,125.7 69.5,125.7 70.1,125.8 70.7,125.7 71.3,125.6 71.9,125.7 72.5,125.8 73.1,125.8 73.7,125.9 74.3,125.5 74.9,125.7 75.5,125.7 76.1,125.8 76.7,125.7 77.3,125.7 77.9,125.9 78.5,125.8 79.1,125.6 79.7,125.9 80.3,125.9 80.9,125.7 81.5,125.9 82.1,125.7 82.7,125.9 83.3,125.7 83.9,125.7 84.5,125.7 85.1,125.7 85.7,125.8 86.3,125.8 86.9,125.8 87.5,125.7 88.1,125.3 88.7,125.8 89.3,125.5 89.9,125.8 90.5,125.9 91.1,125.8 91.7,125.7 92.3,125.8 92.9,125.8 93.5,125.7 94.1,125.7 94.7,125.7 95.3,125.9 95.9,125.8 96.5,125.9 97.1,125.7 97.7,125.8 98.3,125.8 98.9,125.8 99.5,125.9 100.1,125.8 100.7,125.7 101.3,125.7 101.9,126 102.5,125.7 103.1,125.7 103.7,126 104.3,125.9 104.9,125.9 105.5,125.7 106.1,126.1 106.7,125.8 107.3,125.9 107.9,125.8 108.5,125.6 109.1,125.6 109.7,125.8 110.3,125.8 110.9,125.8 111.5,125.6 112.1,125.6 112.7,125.7 113.3,125.6 113.9,125.9 114.5,126 115.1,126.2 115.7,125.9 116.3,125.7 116.9,125.7 117.5,125.3 118.1,125.7 118.7,125.8 119.3,125.9 119.9,125.9 120.5,125.9 121.1,125.8 121.7,125.9 122.3,126 122.9,125.6 123.5,125.7 124.1,125.6 124.7,126 125.3,126 125.9,125.9 126.5,125.6 127.1,125.8 127.7,125.8 128.3,125.8 128.9,125.8 129.5,125.9 130.1,125.7 130.7,125.9 131.3,125.8 131.9,125.8 132.5,125.8 133.1,125.7 133.7,125.9 134.3,125.8 134.9,125.8 135.5,125.7 136.1,125.6 136.7,125.9 137.3,125.6" fill="none" stroke="#151515" stroke-width="1.05" stroke-linejoin="round"/>
<path d="M35.3,129 35.9,128.9 36.5,128.7 37.1,128.7 37.7,128.8 38.3,128.7 38.9,128.7 39.5,128.9 40.1,128.8 40.7,128.8 41.3,128.7 41.9,128.8 42.5,128.7 43.1,128.7 43.7,128.8 44.3,128.7 44.9,128.7 45.5,128.6 46.1,128.7 46.7,128.7 47.3,128.7 47.9,128.6 48.5,128.7 49.1,129 49.7,128.6 50.3,128.7 50.9,128.7 51.5,128.3 52.1,128.6 52.7,128.5 53.3,128.8 53.9,128.6 54.5,128.5 55.1,128.6 55.7,128.6 56.3,128.5 56.9,128.6 57.5,128.4 58.1,128.6 58.7,128.7 59.3,128.8 59.9,128.6 60.5,128.6 61.1,128.7 61.7,128.7 62.3,128.7 62.9,128.7 63.5,128.5 64.1,128.6 64.7,128.6 65.3,128.6 65.9,128.5 66.5,128.4 67.1,128.3 67.7,128.4 68.3,128.3 68.9,128.5 69.5,128.5 70.1,128.3 70.7,128.6 71.3,128.6 71.9,128.5 72.5,128.7 73.1,128.7 73.7,128.3 74.3,128.6 74.9,128.5 75.5,128.5 76.1,128.6 76.7,128.4 77.3,128.4 77.9,128.4 78.5,128.4 79.1,128.5 79.7,128.3 80.3,128.3 80.9,128.5 81.5,128.5 82.1,128.5 82.7,128.2 83.3,128.4 83.9,128.4 84.5,128.5 85.1,128.4 85.7,128.6 86.3,128.4 86.9,128.4 87.5,128.4 88.1,128.5 88.7,128.4 89.3,128.6 89.9,128.5 90.5,128.5 91.1,128.4 91.7,128.5 92.3,128.6 92.9,128.5 93.5,128.5 94.1,128.5 94.7,128.4 95.3,128.6 95.9,128.4 96.5,128.2 97.1,128.6 97.7,128.4 98.3,128.3 98.9,128.4 99.5,128.3 100.1,128.7 100.7,128.5 101.3,128.2 101.9,128.5 102.5,128.4 103.1,128.7 103.7,128.3 104.3,128.2 104.9,128.4 105.5,128.4 106.1,128.4 106.7,128.2 107.3,128.5 107.9,128.6 108.5,128.2 109.1,128.6 109.7,128.3 110.3,128.7 110.9,128.5 111.5,128.4 112.1,128.5 112.7,128.5 113.3,128.3 113.9,128.5 114.5,128.4 115.1,128.2 115.7,128.7 116.3,128.4 116.9,128.3 117.5,128.5 118.1,128.2 118.7,128.2 119.3,128.4 119.9,128.3 120.5,128.4 121.1,128.5 121.7,128.4 122.3,128.5 122.9,128.5 123.5,128.3 124.1,128.4 124.7,128.3 125.3,128.5 125.9,128.5 126.5,128.4 127.1,128.2 127.7,128.4 128.3,128.3 128.9,128.5 129.5,128.4 130.1,128.3 130.7,128.5 131.3,128.5 131.9,128.3 132.5,128.5 133.1,128.4 133.7,128.4 134.3,128.4 134.9,128.3 135.5,128.4 136.1,128.4 136.7,128.6 137.3,128.6" fill="none" stroke="#151515" stroke-width="1.05" stroke-linejoin="round"/>
<path d="M35.3,131.6 35.9,131.8 36.5,131.6 37.1,131.6 37.7,131.6 38.3,131.5 38.9,131.8 39.5,131.5 40.1,131.3 40.7,131.6 41.3,131.4 41.9,131.4 42.5,131 43.1,131.5 43.7,131.4 44.3,131.4 44.9,131.4 45.5,131.5 46.1,131.3 46.7,131.4 47.3,131.2 47.9,131.2 48.5,131.4 49.1,131.3 49.7,131.1 50.3,131.2 50.9,131.2 51.5,131.1 52.1,131.2 52.7,131.1 53.3,131 53.9,131 54.5,131.3 55.1,130.9 55.7,131.1 56.3,131.2 56.9,131.2 57.5,130.9 58.1,131 58.7,131.1 59.3,131.2 59.9,131 60.5,130.9 61.1,131.2 61.7,131.2 62.3,131.1 62.9,131 63.5,131.1 64.1,131 64.7,131.1 65.3,130.9 65.9,131 66.5,131 67.1,130.9 67.7,131 68.3,131 68.9,130.9 69.5,131 70.1,130.8 70.7,131 71.3,131 71.9,131 72.5,131.1 73.1,130.8 73.7,130.8 74.3,131 74.9,131 75.5,131.2 76.1,131 76.7,130.8 77.3,131 77.9,130.8 78.5,130.7 79.1,131.2 79.7,130.9 80.3,131 80.9,131 81.5,131.1 82.1,130.9 82.7,131 83.3,130.8 83.9,130.7 84.5,131.1 85.1,131.1 85.7,130.9 86.3,130.9 86.9,130.9 87.5,130.8 88.1,131.1 88.7,130.9 89.3,130.9 89.9,130.9 90.5,131 91.1,130.9 91.7,131 92.3,130.7 92.9,130.9 93.5,131.1 94.1,130.8 94.7,130.8 95.3,131 95.9,131 96.5,130.9 97.1,130.7 97.7,130.9 98.3,130.7 98.9,130.7 99.5,130.9 100.1,130.8 100.7,130.9 101.3,131.2 101.9,130.9 102.5,130.9 103.1,130.7 103.7,130.8 104.3,130.7 104.9,130.8 105.5,130.7 106.1,130.8 106.7,130.8 107.3,130.7 107.9,130.7 108.5,130.7 109.1,130.9 109.7,130.8 110.3,130.9 110.9,131 111.5,130.8 112.1,130.9 112.7,130.7 113.3,131.1 113.9,131 114.5,130.8 115.1,130.7 115.7,130.9 116.3,130.6 116.9,130.7 117.5,130.9 118.1,130.8 118.7,130.8 119.3,130.9 119.9,130.7 120.5,130.9 121.1,130.8 121.7,130.7 122.3,130.9 122.9,130.7 123.5,131 124.1,130.7 124.7,131.1 125.3,130.7 125.9,130.9 126.5,130.7 127.1,130.7 127.7,130.8 128.3,130.9 128.9,130.7 129.5,131 130.1,130.7 130.7,130.8 131.3,130.9 131.9,130.9 132.5,130.6 133.1,131 133.7,130.9 134.3,130.8 134.9,130.7 135.5,130.6 136.1,130.6 136.7,130.9 137.3,130.8" fill="none" stroke="#151515" stroke-width="1.05" stroke-linejoin="round"/>
<path d="M35.3,133.5 35.9,133.5 36.5,134.1 37.1,133.3 37.7,133.1 38.3,133.8 38.9,133.4 39.5,133.2 40.1,133 40.7,132.6 41.3,132.7 41.9,133 42.5,133 43.1,133.2 43.7,133.3 44.3,133.2 44.9,133.2 45.5,132.8 46.1,132.3 46.7,132.9 47.3,132.8 47.9,132.9 48.5,133 49.1,132.7 49.7,132.7 50.3,133.1 50.9,133.1 51.5,132.9 52.1,133.3 52.7,133 53.3,132.7 53.9,133.1 54.5,133.8 55.1,132.9 55.7,133.5 56.3,133.6 56.9,133.6 57.5,132.8 58.1,133.8 58.7,133.1 59.3,133 59.9,133 60.5,133.3 61.1,133.1 61.7,133 62.3,133.5 62.9,132.8 63.5,132.7 64.1,133.4 64.7,133.3 65.3,133.5 65.9,132.7 66.5,133.5 67.1,133.3 67.7,133.7 68.3,132.7 68.9,133.2 69.5,133 70.1,132.5 70.7,132.8 71.3,133.5 71.9,132.9 72.5,132.8 73.1,133.4 73.7,133.4 74.3,133.4 74.9,132.8 75.5,133.1 76.1,133.5 76.7,132.9 77.3,132.8 77.9,133.4 78.5,133.6 79.1,132.7 79.7,132.2 80.3,132.6 80.9,132.7 81.5,133.1 82.1,133.3 82.7,133 83.3,132.9 83.9,133.2 84.5,132.8 85.1,133.1 85.7,132.9 86.3,134 86.9,133.4 87.5,132.8 88.1,132.8 88.7,132.9 89.3,132.5 89.9,132.8 90.5,132.8 91.1,133.4 91.7,133 92.3,132.8 92.9,132.6 93.5,132.7 94.1,133.1 94.7,133 95.3,133.5 95.9,132.9 96.5,133.5 97.1,133.2 97.7,133.1 98.3,132.4 98.9,132.6 99.5,133.4 100.1,133.6 100.7,133.2 101.3,133.4 101.9,133 102.5,133 103.1,132.9 103.7,133.4 104.3,133.2 104.9,133 105.5,133 106.1,133.3 106.7,133.2 107.3,132.8 107.9,133.7 108.5,133.2 109.1,133.1 109.7,133.6 110.3,133.5 110.9,133.1 111.5,133.3 112.1,132.7 112.7,132.9 113.3,132.3 113.9,133.5 114.5,132.4 115.1,133.3 115.7,132.8 116.3,132.8 116.9,133 117.5,133.2 118.1,133.3 118.7,133.7 119.3,133.2 119.9,133.4 120.5,132.9 121.1,133.3 121.7,133.2 122.3,132.9 122.9,133.1 123.5,133.1 124.1,133.2 124.7,133.2 125.3,132.9 125.9,132.8 126.5,133.4 127.1,132.5 127.7,132.9 128.3,133.6 128.9,132.2 129.5,132.9 130.1,133.3 130.7,132.5 131.3,134 131.9,132.2 132.5,133.6 133.1,133.6 133.7,133.4 134.3,133 134.9,133.2 135.5,132.8 136.1,133.4 136.7,132.7 137.3,133 137.3,136.2 136.7,136.6 136.1,136.2 135.5,136 134.9,136.9 134.3,137.1 133.7,136.6 133.1,136.6 132.5,136.7 131.9,137 131.3,136.8 130.7,136.7 130.1,136.5 129.5,136.7 128.9,137.4 128.3,136.3 127.7,137.5 127.1,135.9 126.5,136 125.9,136.7 125.3,136.5 124.7,135.5 124.1,137.4 123.5,136.5 122.9,136.2 122.3,136.6 121.7,136.6 121.1,136.5 120.5,136.7 119.9,136.2 119.3,137 118.7,135.9 118.1,136.4 117.5,137.2 116.9,136 116.3,136.4 115.7,136.4 115.1,136.2 114.5,136.2 113.9,136.5 113.3,136.3 112.7,136.8 112.1,136.6 111.5,136.8 110.9,136.4 110.3,136.5 109.7,136 109.1,137.3 108.5,136.8 107.9,136.5 107.3,136.5 106.7,137.5 106.1,136.9 105.5,135.4 104.9,137.1 104.3,136.3 103.7,136.3 103.1,136.5 102.5,136.4 101.9,135.9 101.3,136.8 100.7,135.8 100.1,135.9 99.5,136.9 98.9,136.5 98.3,136.9 97.7,136.5 97.1,136.8 96.5,136.8 95.9,136.5 95.3,136.2 94.7,136 94.1,136.1 93.5,136.9 92.9,136 92.3,136.7 91.7,136.8 91.1,136.6 90.5,135.7 89.9,136 89.3,137.4 88.7,136.3 88.1,135.8 87.5,136.4 86.9,136.4 86.3,136.3 85.7,135.9 85.1,136.1 84.5,136.4 83.9,135.6 83.3,136.8 82.7,136.6 82.1,136.4 81.5,136.5 80.9,136.6 80.3,135.8 79.7,135.5 79.1,135.7 78.5,136.3 77.9,136.7 77.3,135.9 76.7,136.6 76.1,137.3 75.5,136 74.9,135.9 74.3,136.7 73.7,136.9 73.1,136.7 72.5,137 71.9,135.9 71.3,137 70.7,136.9 70.1,136.4 69.5,136.6 68.9,136.8 68.3,136.7 67.7,137.4 67.1,136.5 66.5,136.7 65.9,136.6 65.3,135.8 64.7,136.5 64.1,135.7 63.5,136.5 62.9,136.5 62.3,136.8 61.7,136.2 61.1,136.2 60.5,136 59.9,136.9 59.3,135.6 58.7,136.3 58.1,136.4 57.5,136.3 56.9,137 56.3,136.4 55.7,136.6 55.1,137.1 54.5,136.2 53.9,136.1 53.3,136.9 52.7,137.2 52.1,136.5 51.5,136.7 50.9,136.4 50.3,136.6 49.7,137.1 49.1,137.5 48.5,136.9 47.9,136.8 47.3,136 46.7,136.3 46.1,136.3 45.5,136.9 44.9,136.5 44.3,137 43.7,136.2 43.1,137 42.5,136.2 41.9,136.6 41.3,136.3 40.7,136.3 40.1,136.6 39.5,136 38.9,136.9 38.3,137.4 37.7,136.4 37.1,137.2 36.5,137.2 35.9,137.2 35.3,138.5Z" fill="#0a0a0a"/>
<path d="M35.3,132.5 35.9,132.3 36.5,132.5 37.1,132.7 37.7,132.9 38.3,132.6 38.9,133.2 39.5,132.6 40.1,133.6 40.7,132.9 41.3,132.7 41.9,132.5 42.5,131.8 43.1,132.6 43.7,132.7 44.3,133.2 44.9,132.2 45.5,133.2 46.1,132.5 46.7,132.8 47.3,131.8 47.9,132.6 48.5,132.5 49.1,132.8 49.7,132.6 50.3,132.3 50.9,132.9 51.5,132.8 52.1,132.8 52.7,132.9 53.3,132.9 53.9,132.6 54.5,132.2 55.1,132.2 55.7,133 56.3,132.8 56.9,132.6 57.5,132.5 58.1,132.6 58.7,132.6 59.3,132.5 59.9,132.4 60.5,133.2 61.1,132.7 61.7,132.4 62.3,132.2 62.9,132.4 63.5,132.8 64.1,132.8 64.7,132.5 65.3,132.6 65.9,132.5 66.5,132.3 67.1,133 67.7,132.7 68.3,133.3 68.9,132.4 69.5,132.6 70.1,132.9 70.7,132.5 71.3,132.2 71.9,132.3 72.5,132.6 73.1,132.7 73.7,132.6 74.3,132.9 74.9,132.9 75.5,132.7 76.1,132.6 76.7,132.5 77.3,132.8 77.9,132.9 78.5,132.6 79.1,132.7 79.7,132.5 80.3,132.2 80.9,132.3 81.5,132.8 82.1,132.7 82.7,133.1 83.3,132.6 83.9,132.9 84.5,133 85.1,132.9 85.7,132.4 86.3,132.5 86.9,132.6 87.5,132.3 88.1,132.7 88.7,132.9 89.3,132.5 89.9,133.2 90.5,132.5 91.1,132.5 91.7,132.5 92.3,132.4 92.9,132.7 93.5,132.6 94.1,133.1 94.7,132.8 95.3,132.8 95.9,132.5 96.5,132.2 97.1,132.6 97.7,132.3 98.3,132.9 98.9,132.6 99.5,133.1 100.1,132.8 100.7,132.9 101.3,132.7 101.9,132.7 102.5,132.8 103.1,132.9 103.7,132.4 104.3,132.7 104.9,133.4 105.5,132.6 106.1,132.5 106.7,132.4 107.3,132.2 107.9,133 108.5,132.6 109.1,132.7 109.7,133.2 110.3,133.4 110.9,132.3 111.5,132.9 112.1,132.8 112.7,132.7 113.3,132.7 113.9,132.6 114.5,133.1 115.1,132.8 115.7,132.7 116.3,133 116.9,132.9 117.5,132.7 118.1,132.7 118.7,133.1 119.3,132.8 119.9,132.6 120.5,132.3 121.1,132.5 121.7,132.3 122.3,132.6 122.9,132.7 123.5,132 124.1,132.6 124.7,132.8 125.3,132.7 125.9,132.3 126.5,133 127.1,132.4 127.7,132.2 128.3,132.3 128.9,132.6 129.5,132.9 130.1,133 130.7,132.7 131.3,132.2 131.9,132.4 132.5,132.3 133.1,132.5 133.7,132.1 134.3,132.6 134.9,132.8 135.5,132.6 136.1,132.7 136.7,132.3 137.3,132.2" fill="none" stroke="#444" stroke-width="0.9" stroke-linejoin="round"/>
<line x1="35.2" y1="50.8" x2="35.2" y2="142.8" stroke="#222" stroke-width="1"/>
<line x1="137.6" y1="59" x2="137.6" y2="136.8" stroke="#222" stroke-width="1"/>
<line x1="30.3" y1="122.3" x2="35" y2="122.3" stroke="#111" stroke-width="1.4"/>
<path d="M137.6,120.0 L141,120.6 L147.4,121.0 L147.4,123.5 L141,123.9 L137.6,124.6 Z" fill="#000"/>
<text x="70" y="51.2" font-size="10.5" text-anchor="start" fill="#1a1a1a" stroke="#1a1a1a">Caps</text>
<path d="M15.6,122.8 15.6,147.7 36.5,147.7" fill="none" stroke="#777" stroke-width="1" stroke-linejoin="round"/>
<text x="8.4" y="134.3" font-size="10" text-anchor="middle" fill="#1a1a1a" stroke="#1a1a1a" transform="rotate(-90 8.4 134.3)">500 pA</text>
<text x="11.6" y="160" font-size="10.5" text-anchor="start" fill="#1a1a1a" stroke="#1a1a1a">20 ms</text>
<line x1="169.7" y1="122.2" x2="175.3" y2="122.2" stroke="#5a3050" stroke-width="1.2"/>
<line x1="175.3" y1="122.2" x2="278.1" y2="122.2" stroke="#861a7e" stroke-width="2.0"/>
<line x1="278.1" y1="122.2" x2="288.3" y2="122.2" stroke="#7a1a72" stroke-width="1.5"/>
<line x1="175.3" y1="108.6" x2="175.3" y2="135" stroke="#8a2a80" stroke-width="1.0"/>
<line x1="278.1" y1="110.3" x2="278.1" y2="135.4" stroke="#8a2a80" stroke-width="1.0"/>
<text x="181.6" y="110.3" font-size="10.2" text-anchor="start" fill="#8e1f86" stroke="#8e1f86">Caps after 5 µM OA</text>
<line x1="376.6" y1="17.8" x2="376.6" y2="145" stroke="#626262" stroke-width="1"/>
<line x1="372.9" y1="139.6" x2="376.6" y2="139.6" stroke="#626262" stroke-width="1"/>
<text x="368.4" y="143.7" font-size="9.5" text-anchor="end" fill="#1a1a1a" stroke="#1a1a1a">−0.2</text>
<line x1="372.9" y1="124.4" x2="376.6" y2="124.4" stroke="#626262" stroke-width="1"/>
<line x1="372.9" y1="109.2" x2="376.6" y2="109.2" stroke="#626262" stroke-width="1"/>
<text x="368.4" y="113.3" font-size="9.5" text-anchor="end" fill="#1a1a1a" stroke="#1a1a1a">0.2</text>
<line x1="372.9" y1="94" x2="376.6" y2="94" stroke="#626262" stroke-width="1"/>
<text x="368.4" y="98.1" font-size="9.5" text-anchor="end" fill="#1a1a1a" stroke="#1a1a1a">0.4</text>
<line x1="372.9" y1="78.8" x2="376.6" y2="78.8" stroke="#626262" stroke-width="1"/>
<text x="368.4" y="82.9" font-size="9.5" text-anchor="end" fill="#1a1a1a" stroke="#1a1a1a">0.6</text>
<line x1="372.9" y1="63.6" x2="376.6" y2="63.6" stroke="#626262" stroke-width="1"/>
<text x="368.4" y="67.7" font-size="9.5" text-anchor="end" fill="#1a1a1a" stroke="#1a1a1a">0.8</text>
<line x1="372.9" y1="48.4" x2="376.6" y2="48.4" stroke="#626262" stroke-width="1"/>
<text x="368.4" y="52.5" font-size="9.5" text-anchor="end" fill="#1a1a1a" stroke="#1a1a1a">1.0</text>
<line x1="372.9" y1="33.2" x2="376.6" y2="33.2" stroke="#626262" stroke-width="1"/>
<text x="368.4" y="37.3" font-size="9.5" text-anchor="end" fill="#1a1a1a" stroke="#1a1a1a">1.2</text>
<line x1="372.9" y1="18" x2="376.6" y2="18" stroke="#626262" stroke-width="1"/>
<text x="368.4" y="22.1" font-size="9.5" text-anchor="end" fill="#1a1a1a" stroke="#1a1a1a">1.4</text>
<line x1="308" y1="125" x2="444.7" y2="125" stroke="#626262" stroke-width="1"/>
<line x1="309.4" y1="125" x2="309.4" y2="127" stroke="#626262" stroke-width="1"/>
<line x1="320.6" y1="125" x2="320.6" y2="127" stroke="#626262" stroke-width="1"/>
<line x1="331.8" y1="125" x2="331.8" y2="127" stroke="#626262" stroke-width="1"/>
<line x1="343" y1="125" x2="343" y2="127" stroke="#626262" stroke-width="1"/>
<line x1="354.2" y1="125" x2="354.2" y2="127" stroke="#626262" stroke-width="1"/>
<line x1="365.4" y1="125" x2="365.4" y2="127" stroke="#626262" stroke-width="1"/>
<line x1="387.8" y1="125" x2="387.8" y2="127" stroke="#626262" stroke-width="1"/>
<line x1="399" y1="125" x2="399" y2="127" stroke="#626262" stroke-width="1"/>
<line x1="410.2" y1="125" x2="410.2" y2="127" stroke="#626262" stroke-width="1"/>
<line x1="421.4" y1="125" x2="421.4" y2="127" stroke="#626262" stroke-width="1"/>
<line x1="432.6" y1="125" x2="432.6" y2="127" stroke="#626262" stroke-width="1"/>
<line x1="443.8" y1="125" x2="443.8" y2="127" stroke="#626262" stroke-width="1"/>
<text x="320" y="136.2" font-size="9.2" text-anchor="middle" fill="#1a1a1a" stroke="#1a1a1a">−120</text>
<text x="341.8" y="136.2" font-size="9.2" text-anchor="middle" fill="#1a1a1a" stroke="#1a1a1a">−80</text>
<text x="361.5" y="136.2" font-size="9.2" text-anchor="middle" fill="#1a1a1a" stroke="#1a1a1a">−40</text>
<text x="388.4" y="136.2" font-size="9.2" text-anchor="middle" fill="#1a1a1a" stroke="#1a1a1a">40</text>
<text x="411.7" y="136.2" font-size="9.2" text-anchor="middle" fill="#1a1a1a" stroke="#1a1a1a">80</text>
<text x="433" y="136.2" font-size="9.2" text-anchor="middle" fill="#1a1a1a" stroke="#1a1a1a">120</text>
<path d="M307.8,143 312,144.3 319.9,145 325,144.6 330.4,144.4 337.4,145.4 342,145 346.7,143.8 351,142.5 354.9,140.9 359,138.8 363,136.2 366.5,133.8 370,131 373.5,128.2 376.6,125.1 381.3,119.4 386.7,113.3 393.3,104.7 400,94.9 406.7,85.3 413.2,74.9 417.1,68.7 421.7,61.8 425.7,55.2 428.5,50.6 433.1,43.7 437.7,37.8 441.1,31.3 444.5,24.1" fill="none" stroke="#000" stroke-width="1.2" stroke-linejoin="round"/>
<line x1="308" y1="125.2" x2="444.7" y2="125.2" stroke="#8c4284" stroke-width="2.3"/>
<text x="422.2" y="119" font-size="10" text-anchor="start" fill="#1a1a1a" stroke="#1a1a1a"><tspan font-style="italic">V</tspan> (mV)</text>
<text x="347.2" y="70.3" font-size="10" text-anchor="middle" fill="#1a1a1a" stroke="#1a1a1a" transform="rotate(-90 347.2 70.3)"><tspan font-style="italic">I</tspan> (nA)</text>
<line x1="502.5" y1="16.8" x2="502.5" y2="136.9" stroke="#626262" stroke-width="1"/>
<line x1="498.8" y1="136.5" x2="502.5" y2="136.5" stroke="#626262" stroke-width="1"/>
<text x="494.5" y="140.1" font-size="10" text-anchor="end" fill="#1a1a1a" stroke="#1a1a1a">0.0</text>
<line x1="498.8" y1="119.4" x2="502.5" y2="119.4" stroke="#626262" stroke-width="1"/>
<text x="494.5" y="123" font-size="10" text-anchor="end" fill="#1a1a1a" stroke="#1a1a1a">0.2</text>
<line x1="498.8" y1="102.3" x2="502.5" y2="102.3" stroke="#626262" stroke-width="1"/>
<text x="494.5" y="105.9" font-size="10" text-anchor="end" fill="#1a1a1a" stroke="#1a1a1a">0.4</text>
<line x1="498.8" y1="85.2" x2="502.5" y2="85.2" stroke="#626262" stroke-width="1"/>
<text x="494.5" y="88.8" font-size="10" text-anchor="end" fill="#1a1a1a" stroke="#1a1a1a">0.6</text>
<line x1="498.8" y1="68.1" x2="502.5" y2="68.1" stroke="#626262" stroke-width="1"/>
<text x="494.5" y="71.7" font-size="10" text-anchor="end" fill="#1a1a1a" stroke="#1a1a1a">0.8</text>
<line x1="498.8" y1="51" x2="502.5" y2="51" stroke="#626262" stroke-width="1"/>
<text x="494.5" y="54.6" font-size="10" text-anchor="end" fill="#1a1a1a" stroke="#1a1a1a">1.0</text>
<line x1="498.8" y1="33.9" x2="502.5" y2="33.9" stroke="#626262" stroke-width="1"/>
<text x="494.5" y="37.5" font-size="10" text-anchor="end" fill="#1a1a1a" stroke="#1a1a1a">1.2</text>
<line x1="498.8" y1="16.8" x2="502.5" y2="16.8" stroke="#626262" stroke-width="1"/>
<text x="494.5" y="20.4" font-size="10" text-anchor="end" fill="#1a1a1a" stroke="#1a1a1a">1.4</text>
<line x1="502.5" y1="136.9" x2="681.2" y2="136.9" stroke="#7a7a7a" stroke-width="1.2"/>
<rect x="506.4" y="125" width="38.5" height="11" fill="#808080" stroke="#3a3a3a" stroke-width="1"/>
<line x1="525.6" y1="118.6" x2="525.6" y2="130.3" stroke="#383838" stroke-width="0.95"/>
<line x1="523.9" y1="118.6" x2="527.4" y2="118.6" stroke="#383838" stroke-width="0.95"/>
<line x1="523.9" y1="130.3" x2="527.4" y2="130.3" stroke="#383838" stroke-width="0.95"/>
<text x="525.6" y="117.4" font-size="8.6" text-anchor="middle" fill="#111" stroke="#111">*</text>
<line x1="525.6" y1="136.9" x2="525.6" y2="140.7" stroke="#626262" stroke-width="1"/>
<text x="525.6" y="153.1" font-size="10" text-anchor="middle" fill="#1a1a1a" stroke="#1a1a1a">After OA</text>
<text x="525.6" y="165.1" font-size="10" text-anchor="middle" fill="#1a1a1a" stroke="#1a1a1a">in-out</text>
<rect x="550.7" y="116.7" width="38.5" height="19.3" fill="#808080" stroke="#3a3a3a" stroke-width="1"/>
<line x1="570" y1="111.1" x2="570" y2="121.4" stroke="#383838" stroke-width="0.95"/>
<line x1="568.2" y1="111.1" x2="571.7" y2="111.1" stroke="#383838" stroke-width="0.95"/>
<line x1="568.2" y1="121.4" x2="571.7" y2="121.4" stroke="#383838" stroke-width="0.95"/>
<text x="570" y="109.5" font-size="8.6" text-anchor="middle" fill="#111" stroke="#111">*</text>
<line x1="570" y1="136.9" x2="570" y2="140.7" stroke="#626262" stroke-width="1"/>
<text x="570" y="153.1" font-size="10" text-anchor="middle" fill="#1a1a1a" stroke="#1a1a1a">After OA</text>
<text x="570" y="165.1" font-size="10" text-anchor="middle" fill="#1a1a1a" stroke="#1a1a1a">out-out</text>
<rect x="595.6" y="55.8" width="38.4" height="80.2" fill="#808080" stroke="#3a3a3a" stroke-width="1"/>
<line x1="614.8" y1="49.2" x2="614.8" y2="60.5" stroke="#383838" stroke-width="0.95"/>
<line x1="613.1" y1="49.2" x2="616.5" y2="49.2" stroke="#383838" stroke-width="0.95"/>
<line x1="613.1" y1="60.5" x2="616.5" y2="60.5" stroke="#383838" stroke-width="0.95"/>
<line x1="614.8" y1="136.9" x2="614.8" y2="140.7" stroke="#626262" stroke-width="1"/>
<text x="614.8" y="153.1" font-size="10" text-anchor="middle" fill="#1a1a1a" stroke="#1a1a1a">Ctrl</text>
<text x="614.8" y="165.1" font-size="10" text-anchor="middle" fill="#1a1a1a" stroke="#1a1a1a">in-out</text>
<rect x="639.6" y="35.7" width="38.7" height="100.3" fill="#808080" stroke="#3a3a3a" stroke-width="1"/>
<line x1="659" y1="24.9" x2="659" y2="43.5" stroke="#383838" stroke-width="0.95"/>
<line x1="657.2" y1="24.9" x2="660.7" y2="24.9" stroke="#383838" stroke-width="0.95"/>
<line x1="657.2" y1="43.5" x2="660.7" y2="43.5" stroke="#383838" stroke-width="0.95"/>
<line x1="659" y1="136.9" x2="659" y2="140.7" stroke="#626262" stroke-width="1"/>
<text x="659" y="153.1" font-size="10" text-anchor="middle" fill="#1a1a1a" stroke="#1a1a1a">Ctrl</text>
<text x="659" y="165.1" font-size="10" text-anchor="middle" fill="#1a1a1a" stroke="#1a1a1a">out-out</text>
<text x="473.1" y="76.6" font-size="10.4" text-anchor="middle" fill="#1a1a1a" stroke="#1a1a1a" transform="rotate(-90 473.1 76.6)">Uninhibited fraction</text>
<line x1="515.5" y1="194.7" x2="515.5" y2="314.4" stroke="#626262" stroke-width="1"/>
<line x1="511.8" y1="311.7" x2="515.5" y2="311.7" stroke="#626262" stroke-width="1"/>
<text x="507.6" y="315.3" font-size="10" text-anchor="end" fill="#1a1a1a" stroke="#1a1a1a">0.0</text>
<line x1="511.8" y1="288.3" x2="515.5" y2="288.3" stroke="#626262" stroke-width="1"/>
<text x="507.6" y="291.9" font-size="10" text-anchor="end" fill="#1a1a1a" stroke="#1a1a1a">0.2</text>
<line x1="511.8" y1="264.9" x2="515.5" y2="264.9" stroke="#626262" stroke-width="1"/>
<text x="507.6" y="268.5" font-size="10" text-anchor="end" fill="#1a1a1a" stroke="#1a1a1a">0.4</text>
<line x1="511.8" y1="241.5" x2="515.5" y2="241.5" stroke="#626262" stroke-width="1"/>
<text x="507.6" y="245.1" font-size="10" text-anchor="end" fill="#1a1a1a" stroke="#1a1a1a">0.6</text>
<line x1="511.8" y1="218.1" x2="515.5" y2="218.1" stroke="#626262" stroke-width="1"/>
<text x="507.6" y="221.7" font-size="10" text-anchor="end" fill="#1a1a1a" stroke="#1a1a1a">0.8</text>
<line x1="511.8" y1="194.7" x2="515.5" y2="194.7" stroke="#626262" stroke-width="1"/>
<text x="507.6" y="198.3" font-size="10" text-anchor="end" fill="#1a1a1a" stroke="#1a1a1a">1.0</text>
<line x1="515.5" y1="314.4" x2="685" y2="314.4" stroke="#7a7a7a" stroke-width="1.2"/>
<rect x="520.4" y="305.9" width="49.1" height="5.3" fill="#0000fc" stroke="#00007a" stroke-width="1"/>
<line x1="545" y1="302.2" x2="545" y2="309" stroke="#383838" stroke-width="0.95"/>
<line x1="543.2" y1="302.2" x2="546.7" y2="302.2" stroke="#383838" stroke-width="0.95"/>
<line x1="543.2" y1="309" x2="546.7" y2="309" stroke="#383838" stroke-width="0.95"/>
<text x="545" y="299.4" font-size="8.6" text-anchor="middle" fill="#111" stroke="#111">*</text>
<line x1="545" y1="314.4" x2="545" y2="318.2" stroke="#626262" stroke-width="1"/>
<text x="545" y="331" font-size="10" text-anchor="middle" fill="#1a1a1a" stroke="#1a1a1a">LPA</text>
<rect x="576.4" y="309.9" width="49.1" height="1.3" fill="#0000fc" stroke="#00007a" stroke-width="1"/>
<line x1="601" y1="305.5" x2="601" y2="312.8" stroke="#383838" stroke-width="0.95"/>
<line x1="599.2" y1="305.5" x2="602.7" y2="305.5" stroke="#383838" stroke-width="0.95"/>
<line x1="599.2" y1="312.8" x2="602.7" y2="312.8" stroke="#383838" stroke-width="0.95"/>
<text x="601" y="302.4" font-size="8.6" text-anchor="middle" fill="#111" stroke="#111">*</text>
<line x1="601" y1="314.4" x2="601" y2="318.2" stroke="#626262" stroke-width="1"/>
<text x="601" y="331" font-size="10" text-anchor="middle" fill="#1a1a1a" stroke="#1a1a1a">pH 5.5</text>
<rect x="632" y="287.6" width="49.4" height="23.6" fill="#0000fc" stroke="#00007a" stroke-width="1"/>
<line x1="656.7" y1="280.4" x2="656.7" y2="292.7" stroke="#383838" stroke-width="0.95"/>
<line x1="655" y1="280.4" x2="658.4" y2="280.4" stroke="#383838" stroke-width="0.95"/>
<line x1="655" y1="292.7" x2="658.4" y2="292.7" stroke="#383838" stroke-width="0.95"/>
<text x="656.7" y="277.5" font-size="8.6" text-anchor="middle" fill="#111" stroke="#111">*</text>
<line x1="656.7" y1="314.4" x2="656.7" y2="318.2" stroke="#626262" stroke-width="1"/>
<text x="656.7" y="331" font-size="10" text-anchor="middle" fill="#1a1a1a" stroke="#1a1a1a">cPA</text>
<text x="486.6" y="254.4" font-size="10.4" text-anchor="middle" fill="#1a1a1a" stroke="#1a1a1a" transform="rotate(-90 486.6 254.4)">Uninhibited fraction</text>
<line x1="515.5" y1="382.6" x2="515.5" y2="493.1" stroke="#626262" stroke-width="1"/>
<line x1="511.8" y1="491.8" x2="515.5" y2="491.8" stroke="#626262" stroke-width="1"/>
<text x="507.4" y="495.4" font-size="10" text-anchor="end" fill="#1a1a1a" stroke="#1a1a1a">0.0</text>
<line x1="511.8" y1="470" x2="515.5" y2="470" stroke="#626262" stroke-width="1"/>
<text x="507.4" y="473.6" font-size="10" text-anchor="end" fill="#1a1a1a" stroke="#1a1a1a">0.2</text>
<line x1="511.8" y1="448.1" x2="515.5" y2="448.1" stroke="#626262" stroke-width="1"/>
<text x="507.4" y="451.7" font-size="10" text-anchor="end" fill="#1a1a1a" stroke="#1a1a1a">0.4</text>
<line x1="511.8" y1="426.3" x2="515.5" y2="426.3" stroke="#626262" stroke-width="1"/>
<text x="507.4" y="429.9" font-size="10" text-anchor="end" fill="#1a1a1a" stroke="#1a1a1a">0.6</text>
<line x1="511.8" y1="404.4" x2="515.5" y2="404.4" stroke="#626262" stroke-width="1"/>
<text x="507.4" y="408" font-size="10" text-anchor="end" fill="#1a1a1a" stroke="#1a1a1a">0.8</text>
<line x1="511.8" y1="382.6" x2="515.5" y2="382.6" stroke="#626262" stroke-width="1"/>
<text x="507.4" y="386.2" font-size="10" text-anchor="end" fill="#1a1a1a" stroke="#1a1a1a">1.0</text>
<line x1="515.5" y1="493.1" x2="682" y2="493.1" stroke="#7a7a7a" stroke-width="1.2"/>
<rect x="521.7" y="405.6" width="74" height="85.7" fill="#808080" stroke="#3a3a3a" stroke-width="1"/>
<line x1="558.7" y1="396.1" x2="558.7" y2="412.4" stroke="#383838" stroke-width="0.95"/>
<line x1="557" y1="396.1" x2="560.4" y2="396.1" stroke="#383838" stroke-width="0.95"/>
<line x1="557" y1="412.4" x2="560.4" y2="412.4" stroke="#383838" stroke-width="0.95"/>
<line x1="558.7" y1="493.1" x2="558.7" y2="496.9" stroke="#626262" stroke-width="1"/>
<text x="558.7" y="510.3" font-size="10" text-anchor="middle" fill="#1a1a1a" stroke="#1a1a1a">Ctrl</text>
<rect x="605.5" y="462.6" width="73.7" height="28.7" fill="#990077" stroke="#55003f" stroke-width="1"/>
<line x1="642.4" y1="452.2" x2="642.4" y2="470.4" stroke="#383838" stroke-width="0.95"/>
<line x1="640.6" y1="452.2" x2="644.1" y2="452.2" stroke="#383838" stroke-width="0.95"/>
<line x1="640.6" y1="470.4" x2="644.1" y2="470.4" stroke="#383838" stroke-width="0.95"/>
<text x="642.4" y="449.9" font-size="8.6" text-anchor="middle" fill="#111" stroke="#111">*</text>
<line x1="642.4" y1="493.1" x2="642.4" y2="496.9" stroke="#626262" stroke-width="1"/>
<text x="642.4" y="510.3" font-size="10" text-anchor="middle" fill="#1a1a1a" stroke="#1a1a1a">After OA</text>
<text x="487.4" y="437.6" font-size="10.4" text-anchor="middle" fill="#1a1a1a" stroke="#1a1a1a" transform="rotate(-90 487.4 437.6)">Uninhibited fraction</text>
<path d="M33.4,212.2 34.5,210.7 35.6,211.6 36.7,211.8 37.8,213.4 38.9,210.7 40,211.3 41.1,211.2 42.2,210.3 43.3,209.4 44.4,210.5 45.5,210.4 46.6,210.8 47.7,212.1 48.8,211.8 49.9,211.2 51,211.4 52.1,210.8 53.2,211.3 54.3,211.2 55.4,210.7 56.5,211 57.6,209.9 58.7,212.1 59.8,212.7 60.9,211 62,211.3 63.1,211.1 64.2,211.9 65.3,211.8 66.4,211.2 67.5,210.8 68.6,210.4 69.7,209.4 70.8,210.2 71.9,209.6 73,211.3 74.1,211.3 75.2,212 76.3,211.3 77.4,211.7 78.5,210.1 79.6,211.4 80.7,211.1 81.8,211.3 82.9,210.9 84,211.1 85.1,208.3 86.2,210.2 87.3,208.8 88.4,211.3 89.5,208.9 90.6,210.3 91.7,209.4 92.8,211.8 93.9,209.6 95,210.7 96.1,209.7 97.2,209 98.3,210.9 99.4,211.3 100.5,210.8 101.6,211.8 102.7,210.6 103.8,210.4 104.9,210.4 106,211.3 107.1,212.4 108.2,211.2 109.3,211.1 110.4,210.5 111.5,210.1 112.6,212.3 113.7,210.2 114.8,210.4 115.9,211.1 117,210.6 118.1,212 119.2,208.3 120.3,210.5 121.4,210.6 122.5,209.1 123.6,209.8 124.7,211 125.8,211.5 126.9,210.1 128,209.8 129.1,211.8 130.2,212.3 131.3,211.3 132.4,209.2 133.5,212.7 134.6,211.2 135.7,211.9" fill="none" stroke="#a01f82" stroke-width="1.15" stroke-linejoin="round"/>
<path d="M33.4,304.8 34.5,301.2 35.6,300.7 36.7,301.3 37.8,299.7 38.9,297 40,296.7 41.1,298.6 42.2,298.1 43.3,297.6 44.4,297.8 45.5,297.3 46.6,298.7 47.7,297.7 48.8,297.9 49.9,297 51,298 52.1,298.7 53.2,297.9 54.3,298 55.4,299.1 56.5,300.3 57.6,299.4 58.7,301.4 59.8,300.3 60.9,299.9 62,298.2 63.1,299.1 64.2,300.4 65.3,298.7 66.4,298.4 67.5,297.8 68.6,296.9 69.7,296.8 70.8,297.4 71.9,298 73,299 74.1,298.6 75.2,298.1 76.3,297.1 77.4,297.8 78.5,296.4 79.6,297.5 80.7,294.1 81.8,294.8 82.9,297.7 84,295.5 85.1,296 86.2,297.5 87.3,299.2 88.4,297.8 89.5,298.3 90.6,297.7 91.7,297.2 92.8,300.2 93.9,297.3 95,296.9 96.1,296.5 97.2,297.5 98.3,298.7 99.4,298.8 100.5,298 101.6,295.8 102.7,297.1 103.8,295.4 104.9,294.6 106,293.8 107.1,295.8 108.2,295.4 109.3,296 110.4,295.2 111.5,296.7 112.6,295.9 113.7,294.9 114.8,296.3 115.9,296.5 117,297.9 118.1,295.4 119.2,297 120.3,294.9 121.4,296.2 122.5,296.6 123.6,295.5 124.7,297.2 125.8,296.8 126.9,298.4 128,297.5 129.1,296.8 130.2,294.5 131.3,294.5 132.4,297.4 133.5,296.2 134.6,296.4 135.7,296.4" fill="none" stroke="#a01f82" stroke-width="1.15" stroke-linejoin="round"/>
<line x1="33.4" y1="210.9" x2="33.4" y2="313.7" stroke="#a01f82" stroke-width="1"/>
<line x1="136.5" y1="209.6" x2="136.5" y2="297.5" stroke="#b0509a" stroke-width="1"/>
<path d="M33.4,260.3 34,261.9 34.6,262.1 35.2,262.1 35.8,261.3 36.4,262.3 37,262.3 37.6,262.3 38.2,261.8 38.8,261.6 39.4,261.2 40,261.7 40.6,262 41.2,262.4 41.8,261.6 42.4,262.1 43,262 43.6,262.1 44.2,262.4 44.8,263 45.4,262.5 46,262.8 46.6,262.2 47.2,262.7 47.8,261.9 48.4,262.8 49,262.8 49.6,262.8 50.2,262.7 50.8,262.5 51.4,262.4 52,262.7 52.6,262.7 53.2,262.9 53.8,262.2 54.4,262.7 55,262.2 55.6,261.9 56.2,261.5 56.8,261 57.4,260.8 58,261.9 58.6,261.6 59.2,261.7 59.8,262.1 60.4,262.1 61,261.5 61.6,262.2 62.2,262.1 62.8,262 63.4,261.6 64,260.9 64.6,261.3 65.2,261.5 65.8,261.9 66.4,261.6 67,261.9 67.6,262 68.2,262.1 68.8,262 69.4,262 70,261.5 70.6,261.3 71.2,261.6 71.8,261.5 72.4,261.7 73,262.6 73.6,262 74.2,262 74.8,262.5 75.4,262.6 76,262.3 76.6,262.7 77.2,262.4 77.8,262.6 78.4,262.3 79,262.4 79.6,263 80.2,262.2 80.8,263.2 81.4,262.1 82,262.2 82.6,262.2 83.2,261.8 83.8,261.4 84.4,261 85,261.2 85.6,260.9 86.2,261.8 86.8,261 87.4,261.2 88,260.8 88.6,260.9 89.2,260.8 89.8,261 90.4,260.8 91,261 91.6,260.6 92.2,260.9 92.8,261.1 93.4,260.4 94,260.1 94.6,260.7 95.2,261 95.8,260.9 96.4,261.3 97,261.1 97.6,261.2 98.2,260.6 98.8,261.5 99.4,261.3 100,261 100.6,260.9 101.2,260.8 101.8,260.9 102.4,260.5 103,260.1 103.6,260.9 104.2,260.2 104.8,260.5 105.4,259.9 106,261.1 106.6,260.7 107.2,261.1 107.8,261.1 108.4,261.5 109,260.6 109.6,261.1 110.2,261.5 110.8,261 111.4,260.9 112,261 112.6,260.3 113.2,260.9 113.8,261.3 114.4,260.7 115,260.7 115.6,260.7 116.2,260.9 116.8,260.8 117.4,261.1 118,260.8 118.6,260.4 119.2,259.7 119.8,260.9 120.4,260.9 121,260.5 121.6,259.9 122.2,260 122.8,260.7 123.4,260.1 124,260.2 124.6,260.6 125.2,261.1 125.8,261 126.4,260.8 127,260.8 127.6,261.5 128.2,261.4 128.8,261.3 129.4,261 130,261.1 130.6,261 131.2,260.7 131.8,261.2 132.4,261.1 133,261.3 133.6,261.2 134.2,261.2 134.8,260.3 135.4,260.7 136,261.7" fill="none" stroke="#3040c8" stroke-width="1.2" stroke-linejoin="round"/>
<path d="M33.4,289.8 34,289.4 34.6,289.4 35.2,288.6 35.8,288 36.4,287.6 37,287.9 37.6,287.9 38.2,287.8 38.8,287.3 39.4,287.5 40,286.8 40.6,287.1 41.2,286.8 41.8,287 42.4,287.1 43,287.2 43.6,286.5 44.2,287.2 44.8,286.6 45.4,286.5 46,286.7 46.6,286.3 47.2,286.7 47.8,286.8 48.4,286.7 49,286.9 49.6,286.6 50.2,286.7 50.8,286.3 51.4,286.7 52,286.5 52.6,286.6 53.2,286.7 53.8,286.8 54.4,286.2 55,286.2 55.6,286.6 56.2,286.8 56.8,286.8 57.4,287 58,287.1 58.6,286.8 59.2,286.7 59.8,286.4 60.4,286.4 61,286.6 61.6,286.8 62.2,286.8 62.8,286.7 63.4,286.7 64,286.9 64.6,286.8 65.2,286.8 65.8,286.8 66.4,286.5 67,286.4 67.6,286.8 68.2,286.8 68.8,286.6 69.4,286.6 70,287.4 70.6,286.5 71.2,286.6 71.8,286.8 72.4,286.4 73,286.7 73.6,287.2 74.2,287 74.8,286.9 75.4,286.9 76,286.7 76.6,287 77.2,286.7 77.8,286.6 78.4,286.7 79,287 79.6,286.8 80.2,286.9 80.8,286.1 81.4,287.1 82,287.4 82.6,287.1 83.2,286.6 83.8,286.4 84.4,286.8 85,286.4 85.6,286.9 86.2,286.5 86.8,287 87.4,287.1 88,286.1 88.6,286.8 89.2,286.5 89.8,286.3 90.4,286.5 91,286.6 91.6,287 92.2,286.2 92.8,287 93.4,287.3 94,286.9 94.6,286.9 95.2,286.7 95.8,286.3 96.4,286.9 97,286.8 97.6,286.9 98.2,287.5 98.8,286.9 99.4,286.8 100,287.2 100.6,286.3 101.2,286.4 101.8,286.6 102.4,286.5 103,286.9 103.6,286.6 104.2,287.2 104.8,287.2 105.4,286.9 106,286.6 106.6,286.9 107.2,286.9 107.8,286.4 108.4,286.8 109,286.9 109.6,286.8 110.2,287.2 110.8,287.1 111.4,286.5 112,286.7 112.6,286.4 113.2,286.9 113.8,286.4 114.4,287 115,286.8 115.6,287 116.2,286.7 116.8,286.3 117.4,287.2 118,286.6 118.6,287.1 119.2,286.8 119.8,286.9 120.4,287.2 121,286.8 121.6,287.1 122.2,286.3 122.8,287 123.4,286.6 124,286.7 124.6,286.7 125.2,286.8 125.8,287.2 126.4,286.1 127,286.7 127.6,286.5 128.2,287 128.8,286.6 129.4,286.8 130,286.6 130.6,286.9 131.2,287 131.8,286.6 132.4,286.7 133,286.3 133.6,286.8 134.2,287 134.8,286.5 135.4,287 136,286.1" fill="none" stroke="#3040c8" stroke-width="1.2" stroke-linejoin="round"/>
<path d="M33.4,272.9 34,273.2 34.6,274.1 35.2,273.8 35.8,273.5 36.4,273.9 37,273.7 37.6,273.3 38.2,273.3 38.8,273.8 39.4,274.8 40,273.6 40.6,274.7 41.2,274.8 41.8,274.3 42.4,274.5 43,274.3 43.6,274.3 44.2,274.5 44.8,274.4 45.4,274.9 46,274.8 46.6,274.9 47.2,274.6 47.8,274.4 48.4,274.5 49,274.3 49.6,274.7 50.2,274.6 50.8,274.1 51.4,274.9 52,273.4 52.6,273.7 53.2,273.8 53.8,273.3 54.4,273.5 55,273.2 55.6,273.3 56.2,273.7 56.8,273.9 57.4,274.4 58,274.3 58.6,274.2 59.2,274.1 59.8,274 60.4,274.6 61,273.7 61.6,273.5 62.2,273.8 62.8,273.4 63.4,273.4 64,273.8 64.6,273.7 65.2,273.1 65.8,273.4 66.4,273.3 67,274 67.6,274 68.2,274.5 68.8,274 69.4,273.7 70,273.9 70.6,273.5 71.2,273.7 71.8,273.9 72.4,273.9 73,273.2 73.6,273.8 74.2,273.7 74.8,273.4 75.4,273.4 76,272.5 76.6,273.2 77.2,273 77.8,272.9 78.4,273.1 79,273.4 79.6,273.3 80.2,273.7 80.8,273.3 81.4,273.3 82,273.6 82.6,273.2 83.2,273.1 83.8,273 84.4,273.1 85,273.5 85.6,273.3 86.2,273.4 86.8,272.9 87.4,273.5 88,273.6 88.6,273.4 89.2,273.6 89.8,273.5 90.4,274.2 91,274.3 91.6,273.8 92.2,273.5 92.8,274.6 93.4,273.9 94,274.4 94.6,274.5 95.2,273.8 95.8,274.2 96.4,273.7 97,274.1 97.6,274.2 98.2,274.6 98.8,274.1 99.4,274 100,274.5 100.6,274.1 101.2,274 101.8,274.7 102.4,273.7 103,273.5 103.6,273.5 104.2,273.3 104.8,273 105.4,273.8 106,273.1 106.6,273.1 107.2,273.1 107.8,273.1 108.4,273.2 109,273.6 109.6,274.2 110.2,273.7 110.8,273.6 111.4,272.9 112,273.4 112.6,273.3 113.2,273.8 113.8,273.5 114.4,273.7 115,273.8 115.6,273.7 116.2,273.7 116.8,274.4 117.4,273.8 118,273.9 118.6,274.1 119.2,274 119.8,274.3 120.4,274.6 121,274.3 121.6,274 122.2,274 122.8,274.2 123.4,273.5 124,274.2 124.6,273.7 125.2,273.6 125.8,273.8 126.4,273.7 127,274.4 127.6,274.7 128.2,273.8 128.8,274.4 129.4,274.9 130,274.7 130.6,274.8 131.2,274.4 131.8,273.9 132.4,273.8 133,274.1 133.6,274.2 134.2,273.8 134.8,274.1 135.4,274 136,273.3" fill="none" stroke="#1f9080" stroke-width="1.8" stroke-linejoin="round"/>
<line x1="33.4" y1="279.9" x2="136.5" y2="279.9" stroke="#4fa498" stroke-width="1.9"/>
<line x1="33.6" y1="254" x2="33.6" y2="300.6" stroke="#3040c8" stroke-width="1.1"/>
<line x1="136.5" y1="260.7" x2="136.5" y2="296.5" stroke="#3040c8" stroke-width="1.1"/>
<ellipse cx="136.6" cy="278" rx="1.4" ry="3" fill="#2a3ab8"/>
<line x1="28" y1="277.9" x2="33.4" y2="277.9" stroke="#3c4a9a" stroke-width="1.3"/>
<line x1="136.5" y1="277.6" x2="146.8" y2="277.6" stroke="#2232a8" stroke-width="1.5"/>
<line x1="58.5" y1="226.1" x2="71.9" y2="226.1" stroke="#1f9080" stroke-width="1.2"/>
<text x="76" y="229" font-size="8.85" text-anchor="start" fill="#1a1a1a" stroke="#1a1a1a">Initial</text>
<line x1="58.5" y1="235.4" x2="71.9" y2="235.4" stroke="#c0609f" stroke-width="1.2"/>
<text x="76" y="238.3" font-size="8.85" text-anchor="start" fill="#1a1a1a" stroke="#1a1a1a">LPA</text>
<line x1="58.5" y1="244" x2="71.9" y2="244" stroke="#6f78dd" stroke-width="1.2"/>
<text x="76" y="246.9" font-size="8.85" text-anchor="start" fill="#1a1a1a" stroke="#1a1a1a">LPA after OA</text>
<path d="M20.8,305.1 20.8,316.8 41.1,316.8" fill="none" stroke="#777" stroke-width="1" stroke-linejoin="round"/>
<text x="15.1" y="309.4" font-size="10" text-anchor="middle" fill="#1a1a1a" stroke="#1a1a1a" transform="rotate(-90 15.1 309.4)">200 pA</text>
<text x="16.8" y="328.6" font-size="10" text-anchor="start" fill="#1a1a1a" stroke="#1a1a1a">20 ms</text>
<path d="M187.4,212.1 188,212.5 188.6,212.9 189.2,211.1 189.8,211.3 190.4,209.4 191,210.9 191.6,210.4 192.2,212 192.8,211.7 193.4,212.4 194,210.6 194.6,210.5 195.2,210.7 195.8,210.8 196.4,209.6 197,209.9 197.6,210.3 198.2,211.2 198.8,210.8 199.4,211.1 200,211.8 200.6,211.4 201.2,211.6 201.8,211.8 202.4,210.6 203,209.7 203.6,209.7 204.2,209.6 204.8,210.3 205.4,211 206,210.7 206.6,210.7 207.2,210.1 207.8,209.9 208.4,210 209,210.8 209.6,210.7 210.2,211.5 210.8,211.9 211.4,211.5 212,211.4 212.6,210.2 213.2,210 213.8,209.3 214.4,210.3 215,210.5 215.6,210.3 216.2,210.8 216.8,211.2 217.4,211.4 218,211.6 218.6,211.1 219.2,210.5 219.8,210.8 220.4,212.1 221,211.6 221.6,212.6 222.2,212.2 222.8,211.9 223.4,210.4 224,210.1 224.6,209.2 225.2,210.1 225.8,211.1 226.4,210.2 227,211.8 227.6,211 228.2,211 228.8,210.6 229.4,210.5 230,211.2 230.6,210.8 231.2,211.2 231.8,211.7 232.4,212.3 233,212.2 233.6,210.4 234.2,209.9 234.8,209.4 235.4,209.9 236,210.4 236.6,211.7 237.2,209.5 237.8,210.2 238.4,208.9 239,210 239.6,210.5 240.2,210.9 240.8,210.1 241.4,211 242,210.1 242.6,211.7 243.2,209.9 243.8,211.2 244.4,210.9 245,212.2 245.6,212 246.2,211.9 246.8,211.3 247.4,210.8 248,211.6 248.6,211.5 249.2,211.8 249.8,209.9 250.4,211 251,211.8 251.6,211.2 252.2,212 252.8,211.8 253.4,211.5 254,210.6 254.6,211.9 255.2,211.2 255.8,211 256.4,211.2 257,211.3 257.6,210.7 258.2,210.2 258.8,210.6 259.4,210 260,210.8 260.6,210.1 261.2,209.3 261.8,209.8 262.4,210.5 263,210.7 263.6,211.3 264.2,210.8 264.8,211 265.4,209.5 266,210 266.6,210.8 267.2,211.4 267.8,212.1 268.4,210.5 269,210.3 269.6,211.4 270.2,210.6 270.8,211.8 271.4,211.3 272,211.2 272.6,212 273.2,210.4 273.8,210.6 274.4,210.5 275,212.7 275.6,213.5 276.2,213.1 276.8,210.8 277.4,210.7 278,210.5 278.6,209.8 279.2,210 279.8,210.2 280.4,210.9 281,211.6 281.6,211.5 282.2,210.6 282.8,210.6 283.4,209.9 284,210.4 284.6,210.8 285.2,211.8 285.8,211.7 286.4,211.4 287,211.8 287.6,210.2 288.2,210.6 288.8,210.9 289.4,210.8 290,211.4 290.6,211.2 291.2,211.4 291.8,211.9 292.4,212" fill="none" stroke="#e6a030" stroke-width="1.2" stroke-linejoin="round"/>
<path d="M187.4,297.2 188.2,296.9 189,296.7 189.8,295.9 190.6,295.7 191.4,295.4 192.2,295.4 193,295 193.8,294.9 194.6,295.1 195.4,295.2 196.2,295.5 197,295.4 197.8,295.1 198.6,294.8 199.4,294.8 200.2,294.9 201,295.5 201.8,295.3 202.6,295.2 203.4,294.9 204.2,295.1 205,295.2 205.8,294.9 206.6,294.8 207.4,295 208.2,295.2 209,295.1 209.8,295 210.6,295 211.4,295.2 212.2,294.5 213,294.2 213.8,293.9 214.6,294.4 215.4,294.6 216.2,295 217,295.1 217.8,295.1 218.6,294.9 219.4,295.1 220.2,295 221,295.1 221.8,295 222.6,295.2 223.4,294.8 224.2,294.5 225,294.4 225.8,294.8 226.6,294.9 227.4,295.1 228.2,295 229,295 229.8,295 230.6,295.1 231.4,295 232.2,294.9 233,294.8 233.8,294.7 234.6,294.6 235.4,294.5 236.2,294.4 237,294.6 237.8,294.8 238.6,295 239.4,294.7 240.2,294.8 241,294.8 241.8,294.8 242.6,294.7 243.4,294.8 244.2,294.7 245,295 245.8,294.5 246.6,294.4 247.4,294.4 248.2,294.8 249,294.8 249.8,294.7 250.6,294.5 251.4,294.7 252.2,294.2 253,294.3 253.8,294.2 254.6,294.7 255.4,294.9 256.2,294.9 257,295.1 257.8,294.8 258.6,294.6 259.4,293.8 260.2,294.2 261,294.6 261.8,295 262.6,294.5 263.4,294.3 264.2,294.7 265,294.8 265.8,295.4 266.6,295.1 267.4,294.7 268.2,294.5 269,294.4 269.8,294.8 270.6,295 271.4,295 272.2,295.3 273,295 273.8,294.9 274.6,294.8 275.4,294.6 276.2,295 277,295.1 277.8,295.2 278.6,295.1 279.4,295 280.2,295 281,295 281.8,294.9 282.6,295 283.4,294.7 284.2,294.8 285,294.7 285.8,294.7 286.6,294.6 287.4,294.5 288.2,294.8 289,294.7 289.8,294.9 290.6,295 291.4,295.3 292.2,294.9" fill="none" stroke="#eba43c" stroke-width="1.1" stroke-linejoin="round"/>
<line x1="187.4" y1="210.5" x2="187.4" y2="296" stroke="#eba43c" stroke-width="1"/>
<line x1="292.8" y1="210.5" x2="292.8" y2="294" stroke="#eba43c" stroke-width="1"/>
<path d="M187.4,292 188.2,291.6 189,291.3 189.8,291.1 190.6,290.8 191.4,290.6 192.2,290.4 193,290.4 193.8,290.5 194.6,290.6 195.4,290.5 196.2,290.4 197,290.4 197.8,290.3 198.6,290.2 199.4,290 200.2,290.2 201,290.2 201.8,290.3 202.6,290.2 203.4,290.3 204.2,290.4 205,290.3 205.8,290.2 206.6,290.1 207.4,290.5 208.2,290.4 209,290.5 209.8,290.3 210.6,290.3 211.4,290.4 212.2,290.6 213,290.6 213.8,290.7 214.6,290.7 215.4,290.5 216.2,290.6 217,290.6 217.8,290.8 218.6,290.5 219.4,290.5 220.2,290.5 221,290.5 221.8,290.7 222.6,290.7 223.4,290.7 224.2,290.5 225,290.5 225.8,290.7 226.6,290.7 227.4,290.8 228.2,290.8 229,290.6 229.8,290.4 230.6,290.1 231.4,290.2 232.2,290.5 233,290.7 233.8,290.5 234.6,290.3 235.4,290.4 236.2,290.4 237,290.5 237.8,290.4 238.6,290.2 239.4,290.3 240.2,290.3 241,290.6 241.8,290.4 242.6,290.3 243.4,290.1 244.2,290.3 245,290.4 245.8,290.5 246.6,290.7 247.4,290.8 248.2,290.7 249,290.4 249.8,290.5 250.6,290.5 251.4,290.8 252.2,290.7 253,290.7 253.8,290.5 254.6,290.3 255.4,290.3 256.2,290.2 257,290.1 257.8,290.3 258.6,290.4 259.4,290.4 260.2,290.3 261,290.1 261.8,290.4 262.6,290.1 263.4,290.2 264.2,290.1 265,290.2 265.8,290.4 266.6,290.5 267.4,290.5 268.2,290.5 269,290.2 269.8,290.4 270.6,290.3 271.4,290.5 272.2,290.6 273,290.7 273.8,290.8 274.6,290.7 275.4,290.5 276.2,290.4 277,290.4 277.8,290.3 278.6,290.5 279.4,290.4 280.2,290.6 281,290.3 281.8,290.3 282.6,290.3 283.4,290.4 284.2,290.4 285,290.1 285.8,290.3 286.6,290.2 287.4,290.2 288.2,289.9 289,289.9 289.8,290.2 290.6,290.3 291.4,290.4 292.2,290.2" fill="none" stroke="#3a50d6" stroke-width="1.2" stroke-linejoin="round"/>
<path d="M187.4,286.1 188.2,285.7 189,285.7 189.8,285.3 190.6,285.5 191.4,285.5 192.2,285.5 193,285.2 193.8,285 194.6,285 195.4,285.1 196.2,285.1 197,285.1 197.8,285.2 198.6,285.4 199.4,285.4 200.2,285.3 201,285.3 201.8,285.4 202.6,285.4 203.4,285.5 204.2,285.6 205,285.8 205.8,285.7 206.6,285.8 207.4,286 208.2,285.9 209,285.7 209.8,285.6 210.6,285.5 211.4,285.6 212.2,285.5 213,285.5 213.8,285.4 214.6,285.2 215.4,285.2 216.2,285 217,285.5 217.8,285.7 218.6,286.2 219.4,285.9 220.2,285.8 221,285.8 221.8,285.9 222.6,285.9 223.4,285.6 224.2,285.6 225,285.4 225.8,285.3 226.6,285.1 227.4,285.3 228.2,285.5 229,285.5 229.8,285.7 230.6,285.7 231.4,285.9 232.2,285.6 233,285.4 233.8,285.6 234.6,285.6 235.4,285.4 236.2,285.4 237,285.1 237.8,285.3 238.6,285.4 239.4,285.7 240.2,285.8 241,285.7 241.8,285.8 242.6,285.7 243.4,285.5 244.2,285.4 245,285.4 245.8,285.6 246.6,285.9 247.4,285.9 248.2,285.7 249,285.4 249.8,285.3 250.6,285.6 251.4,285.7 252.2,285.7 253,285.4 253.8,285.5 254.6,285.6 255.4,285.6 256.2,285.5 257,285.7 257.8,285.7 258.6,285.9 259.4,285.9 260.2,285.9 261,285.8 261.8,285.6 262.6,285.5 263.4,285.3 264.2,285.2 265,285.4 265.8,285.5 266.6,285.6 267.4,285.7 268.2,285.3 269,285.2 269.8,284.9 270.6,285.3 271.4,285.2 272.2,285.4 273,285.6 273.8,285.5 274.6,285.5 275.4,285.3 276.2,285.3 277,285.3 277.8,285.3 278.6,285.5 279.4,285.3 280.2,285.8 281,285.8 281.8,285.6 282.6,285.1 283.4,285.1 284.2,285.3 285,285.4 285.8,285.3 286.6,285.4 287.4,285.4 288.2,285.3 289,285.2 289.8,285.2 290.6,285.5 291.4,285.6 292.2,285.6" fill="none" stroke="#2a36a8" stroke-width="1.4" stroke-linejoin="round"/>
<line x1="187.4" y1="272" x2="187.4" y2="304.7" stroke="#3346c4" stroke-width="1.0"/>
<line x1="292.8" y1="277.7" x2="292.8" y2="298.7" stroke="#3346c4" stroke-width="0.9"/>
<line x1="182.2" y1="288.3" x2="187.4" y2="288.3" stroke="#3c4a9a" stroke-width="1.3"/>
<line x1="292.8" y1="288.2" x2="302.9" y2="288.2" stroke="#2a36a8" stroke-width="1.1"/>
<path d="M292.8,294.5 296,292 302,290.5" fill="none" stroke="#eba43c" stroke-width="1" stroke-linejoin="round"/>
<line x1="210.3" y1="226" x2="222.8" y2="226" stroke="#666" stroke-width="1.2"/>
<text x="227.6" y="228.7" font-size="8.7" text-anchor="start" fill="#1a1a1a" stroke="#1a1a1a">Initial</text>
<line x1="210.3" y1="234.9" x2="222.8" y2="234.9" stroke="#eba43c" stroke-width="1.2"/>
<text x="227.6" y="237.6" font-size="8.7" text-anchor="start" fill="#1a1a1a" stroke="#1a1a1a">pH 5.5</text>
<line x1="210.3" y1="244" x2="222.8" y2="244" stroke="#8a94e6" stroke-width="1.2"/>
<text x="227.6" y="246.7" font-size="8.7" text-anchor="start" fill="#1a1a1a" stroke="#1a1a1a">pH 5.5 after OA</text>
<path d="M176.6,297.8 176.6,316.4 197.1,316.4" fill="none" stroke="#777" stroke-width="1" stroke-linejoin="round"/>
<text x="170.2" y="309.6" font-size="10" text-anchor="middle" fill="#1a1a1a" stroke="#1a1a1a" transform="rotate(-90 170.2 309.6)">500 pA</text>
<text x="175.6" y="328.8" font-size="10" text-anchor="start" fill="#1a1a1a" stroke="#1a1a1a">20 ms</text>
<path d="M342.5,251.7 343.6,241.9 344.7,232.8 345.8,224.6 346.9,220.7 348,219.3 349.1,216.7 350.2,218.9 351.3,213.9 352.4,212.2 353.5,213.8 354.6,214.2 355.7,212.8 356.8,212.7 357.9,214.5 359,210.8 360.1,209.4 361.2,208 362.3,210.6 363.4,211.4 364.5,209.5 365.6,211 366.7,209.2 367.8,210.6 368.9,208.3 370,205.9 371.1,206.6 372.2,206 373.3,206.6 374.4,209.7 375.5,210.6 376.6,212.3 377.7,208.5 378.8,207.5 379.9,206.5 381,209.3 382.1,208.1 383.2,207.2 384.3,208.9 385.4,207.5 386.5,204.8 387.6,207.8 388.7,207.3 389.8,207.1 390.9,206.9 392,209.4 393.1,209.2 394.2,208.6 395.3,203.6 396.4,204.9 397.5,207.1 398.6,203.7 399.7,204.6 400.8,203.8 401.9,208.2 403,206.9 404.1,207.4 405.2,207.9 406.3,206.1 407.4,206.1 408.5,208 409.6,205 410.7,207 411.8,205.1 412.9,205.4 414,207.1 415.1,204.8 416.2,205.3 417.3,204.6 418.4,201.8 419.5,205.9 420.6,204.5 421.7,208.6 422.8,204.5 423.9,204 425,207.9 426.1,208.3 427.2,207.7 428.3,206.2 429.4,209.2 430.5,205.6 431.6,206.1 432.7,205.7 433.8,205.9 434.9,207.5 436,206 437.1,208.2 438.2,208.7 439.3,204.9 440.4,206 441.5,206.4 442.6,205.6" fill="none" stroke="#ef6f2c" stroke-width="1.1" stroke-linejoin="round"/>
<line x1="342.5" y1="289.3" x2="342.5" y2="251" stroke="#ef6f2c" stroke-width="1"/>
<line x1="443.5" y1="204.5" x2="443.5" y2="289.5" stroke="#f09070" stroke-width="1"/>
<path d="M342.5,278 343.1,277.3 343.7,278.1 344.3,278.1 344.9,277.8 345.5,277.5 346.1,277.9 346.7,277.7 347.3,278.1 347.9,277.9 348.5,278.1 349.1,277.8 349.7,278.3 350.3,277.2 350.9,277.6 351.5,278 352.1,277.4 352.7,278.1 353.3,277.5 353.9,277.9 354.5,277.6 355.1,277.8 355.7,278 356.3,277.9 356.9,277.8 357.5,278.5 358.1,277.9 358.7,277.6 359.3,278.2 359.9,278.1 360.5,278.3 361.1,278.4 361.7,277.6 362.3,278.2 362.9,278.2 363.5,277.9 364.1,278 364.7,277 365.3,277.7 365.9,278.4 366.5,277.4 367.1,277.7 367.7,278 368.3,278.1 368.9,278.4 369.5,277.4 370.1,277.9 370.7,278.2 371.3,277.5 371.9,277.9" fill="none" stroke="#3a3a3a" stroke-width="1.1" stroke-linejoin="round"/>
<path d="M342.5,282.9 343.1,281.6 343.7,281 344.3,280.7 344.9,281.1 345.5,280.9 346.1,281.4 346.7,281.3 347.3,280.9 347.9,280 348.5,279.9 349.1,279.9 349.7,279.7 350.3,279.8 350.9,279.8 351.5,279.4 352.1,279.1 352.7,279.1 353.3,279.2 353.9,279.4 354.5,279.4 355.1,279.2 355.7,278.9 356.3,279.1 356.9,279.7 357.5,279.5 358.1,279.2 358.7,278.6 359.3,278.2 359.9,278 360.5,278.2 361.1,278.7 361.7,278.5 362.3,278.4 362.9,278.2 363.5,278.2 364.1,278.3 364.7,278.4 365.3,278.5 365.9,277.8 366.5,277.6 367.1,277.7 367.7,278.5 368.3,278.8 368.9,278.4 369.5,277.6 370.1,277.6 370.7,277.8 371.3,277.7 371.9,277.8 372.5,277.7 373.1,278.1 373.7,277.7 374.3,277.7 374.9,277.2 375.5,277.9 376.1,277.7 376.7,277.8 377.3,277.8 377.9,278 378.5,278.1 379.1,278.3 379.7,277.8 380.3,278 380.9,277.8 381.5,277.4 382.1,277.6 382.7,277.3 383.3,277.8 383.9,277.3 384.5,277.4 385.1,277.1 385.7,277.2 386.3,277 386.9,276.9 387.5,277.6 388.1,277.3 388.7,277.4 389.3,277 389.9,277.3 390.5,277.7 391.1,277.9 391.7,277.9 392.3,277.6 392.9,277.4 393.5,277.7 394.1,277.9 394.7,277.8 395.3,277.1 395.9,277.4 396.5,277.8 397.1,278.4 397.7,277.9 398.3,277.5 398.9,277.2 399.5,277.1 400.1,277.1 400.7,277.2 401.3,277 401.9,276.9 402.5,277.2 403.1,277.5 403.7,277.5 404.3,276.9 404.9,277 405.5,276.9 406.1,277.1 406.7,276.8 407.3,276.9 407.9,277 408.5,277.5 409.1,277.3 409.7,277.7 410.3,277.5 410.9,277.2 411.5,277 412.1,277 412.7,277.6 413.3,277.5 413.9,277.5 414.5,277.5 415.1,277.9 415.7,278.2 416.3,278.2 416.9,278.1 417.5,278.1 418.1,278 418.7,278 419.3,277.8 419.9,277.7 420.5,278.1 421.1,278.1 421.7,278 422.3,277.4 422.9,277.3 423.5,277.5 424.1,277.3 424.7,276.8 425.3,276.8 425.9,276.7 426.5,277.2 427.1,277.2 427.7,277.9 428.3,278.2 428.9,278.3 429.5,277.9 430.1,277.2 430.7,276.9 431.3,277 431.9,276.8 432.5,277 433.1,277 433.7,277.7 434.3,277.6 434.9,277.6 435.5,277.3 436.1,277.2 436.7,276.8 437.3,277 437.9,277.5 438.5,277.9 439.1,278 439.7,277.4 440.3,277.7 440.9,277.4 441.5,277.9 442.1,277.5 442.7,277.5 443.3,277.5" fill="none" stroke="#1f28b8" stroke-width="1.4" stroke-linejoin="round"/>
<path d="M342.5,289.3 343.3,289.3 344.1,289.3 344.9,289.3 345.7,289.3 346.5,289.3 347.3,289.2 348.1,289.2 348.9,289.1 349.7,289.1 350.5,289.2 351.3,289.3 352.1,289.3 352.9,289.3 353.7,289 354.5,289.1 355.3,289 356.1,289 356.9,289 357.7,289 358.5,289.2 359.3,289.3 360.1,289.2 360.9,289.4 361.7,289.4 362.5,289.4 363.3,289.3 364.1,289.4 364.9,289.4 365.7,289.4 366.5,289.4 367.3,289.4 368.1,289.4 368.9,289.3 369.7,289.3 370.5,289.3 371.3,289.3 372.1,289.2 372.9,289.2 373.7,289.3 374.5,289.3 375.3,289.3 376.1,289.4 376.9,289.2 377.7,289.2 378.5,289.3 379.3,289.5 380.1,289.5 380.9,289.5 381.7,289.5 382.5,289.5 383.3,289.4 384.1,289.5 384.9,289.5 385.7,289.6 386.5,289.6 387.3,289.5 388.1,289.4 388.9,289.4 389.7,289.3 390.5,289.4 391.3,289.4 392.1,289.4 392.9,289.4 393.7,289.4 394.5,289.3 395.3,289.3 396.1,289.3 396.9,289.3 397.7,289.2 398.5,289.2 399.3,289.3 400.1,289.4 400.9,289.5 401.7,289.6 402.5,289.6 403.3,289.5 404.1,289.5 404.9,289.4 405.7,289.4 406.5,289.3 407.3,289.4 408.1,289.3 408.9,289.2 409.7,289.2 410.5,289.2 411.3,289.2 412.1,289.2 412.9,289.3 413.7,289.3 414.5,289.4 415.3,289.3 416.1,289.3 416.9,289.1 417.7,289 418.5,288.9 419.3,289.1 420.1,289.1 420.9,289.3 421.7,289.3 422.5,289.4 423.3,289.5 424.1,289.5 424.9,289.6 425.7,289.7 426.5,289.6 427.3,289.5 428.1,289.3 428.9,289.3 429.7,289.2 430.5,289.1 431.3,289.3 432.1,289.3 432.9,289.4 433.7,289.2 434.5,289.3 435.3,289.2 436.1,289.3 436.9,289.2 437.7,289.1 438.5,289.1 439.3,289.2 440.1,289.4 440.9,289.5 441.7,289.6 442.5,289.5 443.3,289.5" fill="none" stroke="#ef6f2c" stroke-width="1.1" stroke-linejoin="round"/>
<path d="M342.5,290.2 343.3,290.4 344.1,290.6 344.9,290.9 345.7,291.1 346.5,290.9 347.3,290.6 348.1,290.4 348.9,290.4 349.7,290.8 350.5,291.1 351.3,291.1 352.1,290.8 352.9,290.5 353.7,290.6 354.5,290.5 355.3,290.5 356.1,290.6 356.9,290.8 357.7,290.6 358.5,290.6 359.3,290.3 360.1,290.6 360.9,290.4 361.7,290.7 362.5,290.5 363.3,290.5 364.1,290.4 364.9,290.2 365.7,290.6 366.5,290.7 367.3,291 368.1,291.1 368.9,291 369.7,291.1 370.5,290.8 371.3,291 372.1,291 372.9,291 373.7,290.8 374.5,290.8 375.3,290.9 376.1,290.6 376.9,290.6 377.7,290.3 378.5,290.6 379.3,290.3 380.1,290.5 380.9,290.4 381.7,290.7 382.5,290.5 383.3,290.4 384.1,290.3 384.9,290.1 385.7,290.3 386.5,290.3 387.3,290.5 388.1,290.7 388.9,290.7 389.7,291 390.5,291.1 391.3,290.9 392.1,290.5 392.9,290.4 393.7,290.5 394.5,290.5 395.3,290.5 396.1,290.7 396.9,290.8 397.7,290.9 398.5,290.6 399.3,290.6 400.1,290.8 400.9,291 401.7,291.1 402.5,290.5 403.3,290.5 404.1,290.5 404.9,291.2 405.7,291.2 406.5,290.8 407.3,290.6 408.1,290.5 408.9,290.5 409.7,290.3 410.5,290.5 411.3,290.9 412.1,291.1 412.9,290.8 413.7,291 414.5,290.8 415.3,290.9 416.1,290.3 416.9,290.7 417.7,290.8 418.5,291.1 419.3,290.9 420.1,290.8 420.9,290.7 421.7,290.5 422.5,290.6 423.3,290.7 424.1,290.9 424.9,290.8 425.7,290.7 426.5,291 427.3,291 428.1,291 428.9,290.7 429.7,290.4 430.5,290.3 431.3,290.4 432.1,290.6 432.9,290.7 433.7,290.8 434.5,290.9 435.3,290.9 436.1,290.9 436.9,290.9 437.7,290.8 438.5,290.8 439.3,290.5 440.1,290.7 440.9,290.5 441.7,290.8 442.5,290.7 443.3,291" fill="none" stroke="#1c2490" stroke-width="1.5" stroke-linejoin="round"/>
<line x1="342.5" y1="278" x2="342.5" y2="297.7" stroke="#2530c8" stroke-width="1.2"/>
<line x1="443.5" y1="277.3" x2="443.5" y2="290.7" stroke="#2530c8" stroke-width="1.2"/>
<line x1="336.4" y1="287.8" x2="342.5" y2="287.8" stroke="#5a4ab0" stroke-width="1.3"/>
<line x1="443.5" y1="287.9" x2="453.2" y2="287.9" stroke="#3a2a80" stroke-width="1.4"/>
<line x1="371.4" y1="226.6" x2="384.7" y2="226.6" stroke="#555" stroke-width="1.3"/>
<text x="388.8" y="229.5" font-size="8.75" text-anchor="start" fill="#1a1a1a" stroke="#1a1a1a">Initial</text>
<line x1="371.4" y1="236.1" x2="384.7" y2="236.1" stroke="#f4b49c" stroke-width="1.3"/>
<text x="388.8" y="239" font-size="8.75" text-anchor="start" fill="#1a1a1a" stroke="#1a1a1a">cPA</text>
<line x1="371.4" y1="245" x2="384.7" y2="245" stroke="#6a70ee" stroke-width="1.3"/>
<text x="388.8" y="247.9" font-size="8.75" text-anchor="start" fill="#1a1a1a" stroke="#1a1a1a">cPA after OA</text>
<path d="M333.6,300 333.6,316.3 353.1,316.3" fill="none" stroke="#777" stroke-width="1" stroke-linejoin="round"/>
<text x="327" y="309.9" font-size="10" text-anchor="middle" fill="#1a1a1a" stroke="#1a1a1a" transform="rotate(-90 327 309.9)">500 pA</text>
<text x="331.8" y="329" font-size="10" text-anchor="start" fill="#1a1a1a" stroke="#1a1a1a">20 ms</text>
<line x1="51.5" y1="367" x2="51.5" y2="447" stroke="#626262" stroke-width="1"/>
<line x1="47.9" y1="446.5" x2="51.5" y2="446.5" stroke="#626262" stroke-width="1"/>
<text x="43.4" y="450.1" font-size="10" text-anchor="end" fill="#1a1a1a" stroke="#1a1a1a">0</text>
<line x1="47.9" y1="428.9" x2="51.5" y2="428.9" stroke="#626262" stroke-width="1"/>
<text x="43.4" y="432.6" font-size="10" text-anchor="end" fill="#1a1a1a" stroke="#1a1a1a">1</text>
<line x1="47.9" y1="411.4" x2="51.5" y2="411.4" stroke="#626262" stroke-width="1"/>
<text x="43.4" y="415" font-size="10" text-anchor="end" fill="#1a1a1a" stroke="#1a1a1a">2</text>
<line x1="47.9" y1="393.9" x2="51.5" y2="393.9" stroke="#626262" stroke-width="1"/>
<text x="43.4" y="397.5" font-size="10" text-anchor="end" fill="#1a1a1a" stroke="#1a1a1a">3</text>
<line x1="47.9" y1="376.3" x2="51.5" y2="376.3" stroke="#626262" stroke-width="1"/>
<text x="43.4" y="379.9" font-size="10" text-anchor="end" fill="#1a1a1a" stroke="#1a1a1a">4</text>
<text x="25.6" y="407.5" font-size="10" text-anchor="middle" fill="#1a1a1a" stroke="#1a1a1a" transform="rotate(-90 25.6 407.5)">Current (nA)</text>
<line x1="51.5" y1="466" x2="51.5" y2="495.3" stroke="#626262" stroke-width="1"/>
<line x1="49.7" y1="466.2" x2="51.5" y2="466.2" stroke="#626262" stroke-width="1"/>
<line x1="48" y1="471.4" x2="51.5" y2="471.4" stroke="#626262" stroke-width="1"/>
<line x1="49.7" y1="476.3" x2="51.5" y2="476.3" stroke="#626262" stroke-width="1"/>
<line x1="48" y1="481.3" x2="51.5" y2="481.3" stroke="#626262" stroke-width="1"/>
<line x1="49.7" y1="487" x2="51.5" y2="487" stroke="#626262" stroke-width="1"/>
<text x="43.4" y="475" font-size="10" text-anchor="end" fill="#1a1a1a" stroke="#1a1a1a">40</text>
<text x="43.4" y="484.9" font-size="10" text-anchor="end" fill="#1a1a1a" stroke="#1a1a1a">30</text>
<text x="25.6" y="480.2" font-size="10.3" text-anchor="middle" fill="#1a1a1a" stroke="#1a1a1a" transform="rotate(-90 25.6 480.2)">Temperature (°c)</text>
<line x1="51.5" y1="491.6" x2="193.6" y2="491.6" stroke="#8a8a8a" stroke-width="1.6"/>
<line x1="51.5" y1="491.6" x2="51.5" y2="495.4" stroke="#626262" stroke-width="1"/>
<text x="51.5" y="507.5" font-size="10" text-anchor="middle" fill="#1a1a1a" stroke="#1a1a1a">2</text>
<line x1="75.2" y1="491.6" x2="75.2" y2="495.4" stroke="#626262" stroke-width="1"/>
<text x="75.2" y="507.5" font-size="10" text-anchor="middle" fill="#1a1a1a" stroke="#1a1a1a">3</text>
<line x1="98.9" y1="491.6" x2="98.9" y2="495.4" stroke="#626262" stroke-width="1"/>
<text x="98.9" y="507.5" font-size="10" text-anchor="middle" fill="#1a1a1a" stroke="#1a1a1a">4</text>
<line x1="122.5" y1="491.6" x2="122.5" y2="495.4" stroke="#626262" stroke-width="1"/>
<text x="122.5" y="507.5" font-size="10" text-anchor="middle" fill="#1a1a1a" stroke="#1a1a1a">5</text>
<line x1="146.2" y1="491.6" x2="146.2" y2="495.4" stroke="#626262" stroke-width="1"/>
<text x="146.2" y="507.5" font-size="10" text-anchor="middle" fill="#1a1a1a" stroke="#1a1a1a">6</text>
<line x1="169.9" y1="491.6" x2="169.9" y2="495.4" stroke="#626262" stroke-width="1"/>
<text x="169.9" y="507.5" font-size="10" text-anchor="middle" fill="#1a1a1a" stroke="#1a1a1a">7</text>
<line x1="193.6" y1="491.6" x2="193.6" y2="495.4" stroke="#626262" stroke-width="1"/>
<text x="193.6" y="507.5" font-size="10" text-anchor="middle" fill="#1a1a1a" stroke="#1a1a1a">8</text>
<text x="122.5" y="522" font-size="10" text-anchor="middle" fill="#1a1a1a" stroke="#1a1a1a">Time (s)</text>
<path d="M51.5,489.5 52.2,489.5 52.9,489.5 53.6,489.5 54.3,489.5 55,489.5 55.7,489.4 56.4,489.4 57.1,489.4 57.8,489.4 58.5,489.4 59.2,489.4 59.9,489.4 60.6,489.4 61.3,489.3 62,489.3 62.7,489.2 63.4,489.2 64.1,489.2 64.8,489.1 65.5,489.1 66.2,489 66.9,489 67.6,488.9 68.3,488.7 69,488.5 69.7,488.4 70.4,488.2 71.1,488.1 71.8,487.9 72.5,487.7 73.2,487.6 73.9,487.4 74.6,487.2 75.3,487.1 76,486.6 76.7,486.2 77.4,485.8 78.1,485.4 78.8,484.9 79.5,484.5 80.2,483.8 80.9,483.2 81.6,482.6 82.3,482 83,481.4 83.7,480.7 84.4,480.1 85.1,479.4 85.8,478.7 86.5,478 87.2,477.3 87.9,476.6 88.6,475.9 89.3,475.2 90,474.4 90.7,473.7 91.4,473 92.1,472.2 92.8,471.5 93.5,470.8 94.2,470.2 94.9,469.5 95.6,468.9 96.3,468.3 97,467.7 97.7,467.3 98.4,466.9 99.1,466.6 99.8,466.5 100.5,466.4 101.2,466.6 101.9,466.8 102.6,467.2 103.3,467.6 104,468.1 104.7,468.5 105.4,469 106.1,469.5 106.8,470.1 107.5,470.6 108.2,471.1 108.9,471.6 109.6,472.1 110.3,472.6 111,473.1 111.7,473.6 112.4,474 113.1,474.5 113.8,475 114.5,475.4 115.2,475.9 115.9,476.4 116.6,476.8 117.3,477.3 118,477.8 118.7,478.3 119.4,478.8 120.1,479.2 120.8,479.6 121.5,480 122.2,480.5 122.9,480.9 123.6,481.3 124.3,481.7 125,482.1 125.7,482.5 126.4,482.9 127.1,483.3 127.8,483.6 128.5,484 129.2,484.4 129.9,484.7 130.6,485 131.3,485.3 132,485.5 132.7,485.8 133.4,486 134.1,486.2 134.8,486.3 135.5,486.5 136.2,486.7 136.9,486.8 137.6,486.9 138.3,487.1 139,487.2 139.7,487.4 140.4,487.4 141.1,487.5 141.8,487.5 142.5,487.6 143.2,487.6 143.9,487.7 144.6,487.7 145.3,487.8 146,487.8 146.7,487.9 147.4,487.9 148.1,488 148.8,488 149.5,488.1 150.2,488.1 150.9,488.2 151.6,488.2 152.3,488.3 153,488.3 153.7,488.4 154.4,488.4 155.1,488.4 155.8,488.4 156.5,488.5 157.2,488.5 157.9,488.5 158.6,488.5 159.3,488.6 160,488.6 160.7,488.6 161.4,488.6 162.1,488.7 162.8,488.7 163.5,488.7 164.2,488.7 164.9,488.8 165.6,488.8 166.3,488.8 167,488.8 167.7,488.9 168.4,488.9 169.1,488.9 169.8,488.9 170.5,488.9 171.2,489 171.9,489 172.6,489 173.3,489 174,489.1 174.7,489.1 175.4,489.1 176.1,489.1 176.8,489.1 177.5,489.1 178.2,489.1 178.9,489.2 179.6,489.2 180.3,489.2 181,489.2 181.7,489.2 182.4,489.2 183.1,489.2 183.8,489.2 184.5,489.2 185.2,489.3 185.9,489.3 186.6,489.3 187.3,489.3 188,489.3 188.7,489.3 189.4,489.3 190.1,489.3 190.8,489.3 191.5,489.3 192.2,489.4 192.9,489.4 193.6,489.4" fill="none" stroke="#555" stroke-width="0.9" stroke-linejoin="round"/>
<path d="M51.8,445 52.2,444.7 52.6,445.3 53,445.1 53.4,445 53.8,445 54.2,445.3 54.6,445.2 55,445.1 55.4,444.5 55.8,444.9 56.2,445 56.6,445.5 57,445.1 57.4,445 57.8,445.3 58.2,444.9 58.6,445 59,445 59.4,444.5 59.8,445.3 60.2,445.1 60.6,444.9 61,444.6 61.4,445 61.8,445.4 62.2,444.8 62.6,444.6 63,445.1 63.4,444.5 63.8,444.3 64.2,444.8 64.6,444.7 65,444.9 65.4,444.8 65.8,445 66.2,444.9 66.6,444.8 67,444.8 67.4,445.1 67.8,445.2 68.2,445.2 68.6,445.1 69,443.9 69.4,444.6 69.8,444.8 70.2,445 70.6,444.4 71,445.3 71.4,444.9 71.8,444.6 72.2,444.8 72.6,444.6 73,444.4 73.4,444.8 73.8,444.5 74.2,444.2 74.6,444.4 75,444.5 75.4,444.2 75.8,444.8 76.2,444.1 76.6,444.9 77,444.6 77.4,444 77.8,444.3 78.2,444.6 78.6,444.2 79,443.7 79.4,444 79.8,444.5 80.2,443.3 80.6,443.8 81,443.5 81.4,443.4 81.8,443.2 82.2,443 82.6,443.1 83,442.6 83.4,441.9 83.8,442.3 84.2,441.2 84.6,441.5 85,441 85.4,441 85.8,440.4" fill="none" stroke="#333" stroke-width="1.1" stroke-linejoin="round"/>
<path d="M86,440.4 86.4,439.4 86.8,439.3 87.2,438.5 87.6,438.7 88,436.9 88.4,437.2 88.8,436.1 89.2,435.1 89.6,433.8 90,433.4 90.4,431.3 90.8,429.3 91.2,428.4 91.6,425.1 92,424 92.4,420.1 92.8,417.5 93.2,414 93.6,410.7 94,406.6 94.4,403.1 94.8,400 95.2,397.8 95.6,394.7 96,391.9 96.4,388 96.8,384.4 97.2,380.3 97.6,380.4 98,378.3 98.4,374.9 98.8,374.5 99.2,372 99.6,369.8 100,370.4 100.4,368.8 100.8,367 101.2,367.8 101.6,368.7 102,371.8 102.4,370.9 102.8,372.7 103.2,373.7 103.6,376.3 104,377.9 104.4,380.4 104.8,381.7 105.2,382.5 105.6,384.1 106,385.5 106.4,387.2 106.8,390.4 107.2,388.1 107.6,392.1 108,394.2 108.4,396.7 108.8,396.4 109.2,399.3 109.6,401.4 110,402 110.4,402.3 110.8,405 111.2,405.9 111.6,408.8 112,409.2 112.4,412.6 112.8,412.9 113.2,413.7 113.6,415.4 114,416.5 114.4,418.9 114.8,420.9 115.2,421 115.6,422.9 116,423.1 116.4,425 116.8,427.3 117.2,426.3 117.6,428.5 118,429.1 118.4,428.2 118.8,429.2 119.2,430.1 119.6,431.8 120,431.8 120.4,432.6 120.8,433.4 121.2,433.5 121.6,434 122,434.1 122.4,435.2 122.8,434.7 123.2,436.3 123.6,435.8 124,436 124.4,436.8 124.8,437 125.2,436.1 125.6,437.3 126,436.8 126.4,437.3 126.8,438.2 127.2,437.7 127.6,438.5 128,438.3 128.4,439.4 128.8,438.7 129.2,438.3 129.6,438.5 130,438.7 130.4,439.2 130.8,439.3 131.2,439.8 131.6,439.6 132,439.7 132.4,439.9 132.8,439.8 133.2,440 133.6,440.3 134,440.4 134.4,439.9 134.8,439.4 135.2,439.9 135.6,440.4 136,439.3 136.4,440.2 136.8,440.6 137.2,440.3 137.6,440.1 138,441.3 138.4,441.2 138.8,440.6 139.2,441.3 139.6,441.4 140,440.5 140.4,442 140.8,440.7 141.2,441 141.6,440.7 142,441.1 142.4,440.6 142.8,441.2 143.2,441.6 143.6,441.3 144,441.2 144.4,441.9 144.8,441 145.2,441.8 145.6,441.3 146,441.5 146.4,441.5 146.8,441.6 147.2,441.5 147.6,441.3 148,441.4 148.4,441.8 148.8,441.6 149.2,441.2 149.6,441.4 150,441.5 150.4,441.8 150.8,441.9 151.2,441.9 151.6,441.6 152,441.9 152.4,441.4 152.8,440.8 153.2,441.9 153.6,441.3 154,441.6 154.4,441.5 154.8,442.2 155.2,441.5 155.6,442.1 156,441.8 156.4,441.6 156.8,441.4 157.2,442.2 157.6,442.2 158,442.4 158.4,442.8 158.8,442.2 159.2,442.3 159.6,442.1 160,442.2 160.4,442.1 160.8,441.9 161.2,443 161.6,441.5 162,442.4 162.4,442.4 162.8,442.3 163.2,441.9 163.6,442.2 164,442.2 164.4,441.9 164.8,442.3 165.2,442.2 165.6,442.2 166,442.7 166.4,442 166.8,442.6 167.2,442.2 167.6,442.6 168,442.5 168.4,442.6 168.8,442.1 169.2,442.2 169.6,442.2 170,442.6 170.4,442.9 170.8,443 171.2,442.4 171.6,442.6 172,442 172.4,441.8 172.8,442.3 173.2,442.4 173.6,442.1 174,442 174.4,442.9 174.8,442.4 175.2,442 175.6,443.6 176,442.7 176.4,442.6 176.8,443 177.2,442.4 177.6,443.3 178,442.1 178.4,442.2 178.8,442.7 179.2,442.4 179.6,443.3 180,442.1 180.4,442.5 180.8,442.8 181.2,443 181.6,443.1 182,442.9 182.4,443.6 182.8,442.6 183.2,442.9 183.6,443.1 184,442.7 184.4,442.7 184.8,442.7 185.2,442.6 185.6,442.4 186,442.6 186.4,442.3 186.8,443 187.2,442.3 187.6,443.6 188,443.5 188.4,443.3 188.8,442.8 189.2,442.7 189.6,443.4 190,443 190.4,443.1 190.8,442.7 191.2,443.3 191.6,442.6 192,443 192.4,442.3 192.8,442.7 193.2,443.1 193.6,442.8" fill="none" stroke="#111" stroke-width="1.7" stroke-linejoin="round"/>
<path d="M51.8,445.1 52.2,445.4 52.6,445.2 53,445.5 53.4,444.6 53.8,445.3 54.2,445.3 54.6,444.8 55,444.8 55.4,445.4 55.8,444.9 56.2,445 56.6,445.3 57,445.1 57.4,445.3 57.8,444.9 58.2,445.2 58.6,445.4 59,445.2 59.4,444.6 59.8,445.3 60.2,445.2 60.6,444.9 61,445.5 61.4,444.7 61.8,445.6 62.2,445 62.6,445.5 63,445.1 63.4,444.8 63.8,445.1 64.2,445.2 64.6,445.3 65,445.4 65.4,444.9 65.8,445.2 66.2,445.3 66.6,445 67,444.9 67.4,444.9 67.8,445.3 68.2,445.3 68.6,444.9 69,444.8 69.4,445.4 69.8,444.7 70.2,445.1 70.6,444.8 71,444.6 71.4,445 71.8,444.9 72.2,445.3 72.6,445.4 73,444.8 73.4,445.1 73.8,445 74.2,444.6 74.6,444.5 75,445.1 75.4,444.6 75.8,444.6 76.2,444.5 76.6,444.5 77,444.4 77.4,444.7 77.8,444.8 78.2,444.3 78.6,444 79,444.3 79.4,443.8 79.8,443.9 80.2,444.2 80.6,444.4 81,443.8 81.4,443.3 81.8,443.6 82.2,442.7 82.6,442.8 83,443 83.4,442.5 83.8,441.7 84.2,441.3 84.6,441.6 85,441.1 85.4,440.7 85.8,440.5 86.2,439.7 86.6,438.8 87,439 87.4,438 87.8,437.4" fill="none" stroke="#a0308f" stroke-width="1.0" stroke-linejoin="round"/>
<path d="M86,439.6 86.4,439.8 86.8,438.7 87.2,438.9 87.6,437.9 88,438 88.4,436.7 88.8,435.8 89.2,434.2 89.6,433.8 90,433.8 90.4,433.9 90.8,429.6 91.2,427.7 91.6,426.5 92,423.7 92.4,420 92.8,417.6 93.2,413 93.6,410.4 94,407.7 94.4,404.9 94.8,400.2 95.2,396.8 95.6,394.2 96,391.8 96.4,388.2 96.8,384 97.2,383.7 97.6,381.9 98,377.7 98.4,375.1 98.8,375.2 99.2,373.2 99.6,373.2 100,371.5 100.4,370 100.8,371 101.2,371.1 101.6,372 102,373.8 102.4,375.4 102.8,378.7 103.2,376.7 103.6,379.5 104,380.4 104.4,384 104.8,384.3 105.2,385.2 105.6,388.1 106,389.1 106.4,390.3 106.8,393.8 107.2,394.8 107.6,397.4 108,398.5 108.4,399.9 108.8,401 109.2,401.6 109.6,404.6 110,405.6 110.4,407.6 110.8,408.5 111.2,409.5 111.6,410.8 112,413.5 112.4,415.4 112.8,415.8 113.2,417.7 113.6,419.8 114,419.6 114.4,421.2 114.8,421.9 115.2,424.6 115.6,425.2 116,426 116.4,426.4 116.8,427.9 117.2,429.3 117.6,429.3 118,429.9 118.4,431.2 118.8,430.9 119.2,432.3 119.6,433.2 120,432.9 120.4,433.3 120.8,434.2 121.2,434.5 121.6,434.8 122,435.5 122.4,435.9 122.8,435.7 123.2,436.3 123.6,437 124,437.6 124.4,437.9 124.8,437.1 125.2,438.2 125.6,438.3 126,438.1 126.4,438.6 126.8,439 127.2,439.6 127.6,438.4 128,439.3 128.4,439 128.8,439.1 129.2,439.8 129.6,439.8 130,439.1 130.4,439.5 130.8,439.9 131.2,439.3 131.6,440.4 132,440.1 132.4,440.2 132.8,440.4 133.2,441.1 133.6,440.4 134,440.2 134.4,441.2 134.8,440.3 135.2,440.4 135.6,440 136,441.2 136.4,440.9 136.8,441 137.2,440.9 137.6,440.9 138,440.6 138.4,440.7 138.8,441.3 139.2,441.2 139.6,441.9 140,441 140.4,441.1 140.8,440.9 141.2,442 141.6,440.9 142,441.8 142.4,442.1 142.8,441.5 143.2,441.9 143.6,440.7 144,441.4 144.4,440.9 144.8,441.7 145.2,441.7 145.6,441.4 146,442.2 146.4,442 146.8,441.6 147.2,441.6 147.6,441.3 148,441.8 148.4,442.9 148.8,441.7 149.2,442.2 149.6,441.8 150,442.4 150.4,442.3 150.8,442 151.2,441.4 151.6,441.9 152,442.7 152.4,442.1 152.8,442.5 153.2,442 153.6,441.4 154,442.4 154.4,442.4 154.8,442 155.2,442.1 155.6,442.4 156,442.1 156.4,442.5 156.8,442.3 157.2,441.4 157.6,442.3 158,442.2 158.4,442.1 158.8,442.6 159.2,442.3 159.6,442.7 160,443 160.4,442.6 160.8,441.9 161.2,442.2 161.6,442.9 162,442.5 162.4,442.2 162.8,442.6 163.2,442.8 163.6,442.7 164,442.9 164.4,442.3 164.8,442.6 165.2,442.6 165.6,442.7 166,441.8 166.4,442.6 166.8,442.2 167.2,443.4 167.6,443.4 168,443.5 168.4,443.2 168.8,442.6 169.2,443.3 169.6,442.8 170,443.1 170.4,442.5 170.8,442.7 171.2,443.1 171.6,443.7 172,442.9 172.4,443.9 172.8,444.1 173.2,442.4 173.6,442.9 174,442.6 174.4,442.9 174.8,442.8 175.2,443 175.6,443.4 176,443.4 176.4,443.1 176.8,443 177.2,443.1 177.6,443.1 178,443.3 178.4,443 178.8,443.3 179.2,442.5 179.6,443.4 180,443.8 180.4,443.1 180.8,442.5 181.2,443.6 181.6,443 182,441.9 182.4,443 182.8,443.4 183.2,443.3 183.6,443.6 184,443.4 184.4,443.2 184.8,442.3 185.2,442.7 185.6,443.2 186,443.4 186.4,442.7 186.8,442.9 187.2,443.4 187.6,442.4 188,442.4 188.4,443.1 188.8,443.3 189.2,443 189.6,442.3 190,443.2 190.4,442.7 190.8,443.5 191.2,443.2 191.6,443.4 192,443.5 192.4,443.1 192.8,443.6 193.2,443.8 193.6,443.5" fill="none" stroke="#a01f8e" stroke-width="1.6" stroke-linejoin="round"/>
<path d="M93,417 93.4,412.1 93.8,409.7 94.2,405.6 94.6,401.3 95,398.7 95.4,395 95.8,391.9 96.2,389.5 96.6,387.4 97,384.3 97.4,382.3 97.8,378.2 98.2,377.7 98.6,376.9 99,374.6 99.4,373 99.8,371.2 100.2,370 100.6,371.1 101,370.4 101.4,371.3 101.8,374.7 102.2,374.2 102.6,378.7 103,375.8 103.4,379.4 103.8,379.2 104.2,382.1 104.6,382.3 105,384.9 105.4,386.4 105.8,387.9 106.2,390.5 106.6,393.1 107,392.9 107.4,395.9 107.8,396.9 108.2,398.5 108.6,402 109,400.1 109.4,402.8 109.8,403.5 110.2,406.2 110.6,407.8 111,412.3 111.4,411.2 111.8,413.7 112.2,414.8 112.6,415 113,417.1 113.4,419.4 113.8,419.8 114.2,421 114.6,422.4 115,422.4 115.4,424.1 115.8,426 116.2,427.3 116.6,427.3 117,428.3 117.4,429.1 117.8,429.8 118.2,431 118.6,431.4 119,432.1 119.4,432 119.8,432.7 120.2,433.8 120.6,433.2 121,434.6 121.4,434.5 121.8,434.9 122.2,436 122.6,435.7 123,436.1 123.4,436.5 123.8,437.1 124.2,438.6 124.6,436.5 125,437.7" fill="none" stroke="#a8259a" stroke-width="1.9" stroke-linejoin="round"/>
<line x1="304.7" y1="368" x2="304.7" y2="447.7" stroke="#626262" stroke-width="1"/>
<line x1="301.1" y1="447.2" x2="304.7" y2="447.2" stroke="#626262" stroke-width="1"/>
<text x="296.4" y="450.8" font-size="10" text-anchor="end" fill="#1a1a1a" stroke="#1a1a1a">0.0</text>
<line x1="301.1" y1="432.2" x2="304.7" y2="432.2" stroke="#626262" stroke-width="1"/>
<text x="296.4" y="435.8" font-size="10" text-anchor="end" fill="#1a1a1a" stroke="#1a1a1a">0.5</text>
<line x1="301.1" y1="417.2" x2="304.7" y2="417.2" stroke="#626262" stroke-width="1"/>
<text x="296.4" y="420.8" font-size="10" text-anchor="end" fill="#1a1a1a" stroke="#1a1a1a">1.0</text>
<line x1="301.1" y1="402.2" x2="304.7" y2="402.2" stroke="#626262" stroke-width="1"/>
<text x="296.4" y="405.8" font-size="10" text-anchor="end" fill="#1a1a1a" stroke="#1a1a1a">1.5</text>
<line x1="301.1" y1="387.2" x2="304.7" y2="387.2" stroke="#626262" stroke-width="1"/>
<text x="296.4" y="390.8" font-size="10" text-anchor="end" fill="#1a1a1a" stroke="#1a1a1a">2.0</text>
<line x1="301.1" y1="372.2" x2="304.7" y2="372.2" stroke="#626262" stroke-width="1"/>
<text x="296.4" y="375.8" font-size="10" text-anchor="end" fill="#1a1a1a" stroke="#1a1a1a">2.5</text>
<text x="274.1" y="407.5" font-size="10" text-anchor="middle" fill="#1a1a1a" stroke="#1a1a1a" transform="rotate(-90 274.1 407.5)">Current (nA)</text>
<line x1="304.7" y1="466" x2="304.7" y2="495.3" stroke="#626262" stroke-width="1"/>
<line x1="302.9" y1="466.2" x2="304.7" y2="466.2" stroke="#626262" stroke-width="1"/>
<line x1="301.2" y1="471.4" x2="304.7" y2="471.4" stroke="#626262" stroke-width="1"/>
<line x1="302.9" y1="476.3" x2="304.7" y2="476.3" stroke="#626262" stroke-width="1"/>
<line x1="301.2" y1="481.3" x2="304.7" y2="481.3" stroke="#626262" stroke-width="1"/>
<line x1="302.9" y1="487" x2="304.7" y2="487" stroke="#626262" stroke-width="1"/>
<text x="296.4" y="475" font-size="10" text-anchor="end" fill="#1a1a1a" stroke="#1a1a1a">40</text>
<text x="296.4" y="484.9" font-size="10" text-anchor="end" fill="#1a1a1a" stroke="#1a1a1a">30</text>
<text x="274.1" y="480.2" font-size="10.3" text-anchor="middle" fill="#1a1a1a" stroke="#1a1a1a" transform="rotate(-90 274.1 480.2)">Temperature (°c)</text>
<line x1="304.7" y1="491.6" x2="446.8" y2="491.6" stroke="#8a8a8a" stroke-width="1.6"/>
<line x1="304.7" y1="491.6" x2="304.7" y2="495.4" stroke="#626262" stroke-width="1"/>
<text x="304.7" y="507.5" font-size="10" text-anchor="middle" fill="#1a1a1a" stroke="#1a1a1a">2</text>
<line x1="328.4" y1="491.6" x2="328.4" y2="495.4" stroke="#626262" stroke-width="1"/>
<text x="328.4" y="507.5" font-size="10" text-anchor="middle" fill="#1a1a1a" stroke="#1a1a1a">3</text>
<line x1="352.1" y1="491.6" x2="352.1" y2="495.4" stroke="#626262" stroke-width="1"/>
<text x="352.1" y="507.5" font-size="10" text-anchor="middle" fill="#1a1a1a" stroke="#1a1a1a">4</text>
<line x1="375.8" y1="491.6" x2="375.8" y2="495.4" stroke="#626262" stroke-width="1"/>
<text x="375.8" y="507.5" font-size="10" text-anchor="middle" fill="#1a1a1a" stroke="#1a1a1a">5</text>
<line x1="399.4" y1="491.6" x2="399.4" y2="495.4" stroke="#626262" stroke-width="1"/>
<text x="399.4" y="507.5" font-size="10" text-anchor="middle" fill="#1a1a1a" stroke="#1a1a1a">6</text>
<line x1="423.1" y1="491.6" x2="423.1" y2="495.4" stroke="#626262" stroke-width="1"/>
<text x="423.1" y="507.5" font-size="10" text-anchor="middle" fill="#1a1a1a" stroke="#1a1a1a">7</text>
<line x1="446.8" y1="491.6" x2="446.8" y2="495.4" stroke="#626262" stroke-width="1"/>
<text x="446.8" y="507.5" font-size="10" text-anchor="middle" fill="#1a1a1a" stroke="#1a1a1a">8</text>
<text x="375.8" y="522" font-size="10" text-anchor="middle" fill="#1a1a1a" stroke="#1a1a1a">Time (s)</text>
<path d="M304.7,489.5 305.4,489.5 306.1,489.5 306.8,489.5 307.5,489.5 308.2,489.4 308.9,489.4 309.6,489.4 310.3,489.4 311,489.4 311.7,489.4 312.4,489.4 313.1,489.4 313.8,489.3 314.5,489.3 315.2,489.3 315.9,489.2 316.6,489.2 317.3,489.1 318,489.1 318.7,489.1 319.4,489 320.1,488.9 320.8,488.7 321.5,488.6 322.2,488.4 322.9,488.2 323.6,488.1 324.3,487.9 325,487.8 325.7,487.6 326.4,487.4 327.1,487.3 327.8,487.1 328.5,486.7 329.2,486.3 329.9,485.8 330.6,485.4 331.3,485 332,484.5 332.7,483.9 333.4,483.3 334.1,482.7 334.8,482.1 335.5,481.5 336.2,480.8 336.9,480.1 337.6,479.5 338.3,478.8 339,478.1 339.7,477.4 340.4,476.7 341.1,476 341.8,475.3 342.5,474.5 343.2,473.8 343.9,473.1 344.6,472.3 345.3,471.6 346,470.9 346.7,470.3 347.4,469.6 348.1,469 348.8,468.4 349.5,467.8 350.2,467.3 350.9,466.9 351.6,466.6 352.3,466.5 353,466.4 353.7,466.6 354.4,466.8 355.1,467.1 355.8,467.5 356.5,468 357.2,468.5 357.9,469 358.6,469.5 359.3,470 360,470.5 360.7,471 361.4,471.6 362.1,472.1 362.8,472.5 363.5,473 364.2,473.5 364.9,474 365.6,474.4 366.3,474.9 367,475.4 367.7,475.8 368.4,476.3 369.1,476.8 369.8,477.2 370.5,477.7 371.2,478.2 371.9,478.7 372.6,479.1 373.3,479.6 374,480 374.7,480.4 375.4,480.8 376.1,481.2 376.8,481.6 377.5,482.1 378.2,482.5 378.9,482.9 379.6,483.2 380.3,483.6 381,483.9 381.7,484.3 382.4,484.7 383.1,485 383.8,485.2 384.5,485.5 385.2,485.8 385.9,486 386.6,486.2 387.3,486.3 388,486.5 388.7,486.6 389.4,486.8 390.1,486.9 390.8,487.1 391.5,487.2 392.2,487.3 392.9,487.4 393.6,487.5 394.3,487.5 395,487.6 395.7,487.6 396.4,487.7 397.1,487.7 397.8,487.7 398.5,487.8 399.2,487.8 399.9,487.9 400.6,488 401.3,488 402,488.1 402.7,488.1 403.4,488.2 404.1,488.2 404.8,488.3 405.5,488.3 406.2,488.4 406.9,488.4 407.6,488.4 408.3,488.4 409,488.5 409.7,488.5 410.4,488.5 411.1,488.5 411.8,488.6 412.5,488.6 413.2,488.6 413.9,488.6 414.6,488.7 415.3,488.7 416,488.7 416.7,488.7 417.4,488.8 418.1,488.8 418.8,488.8 419.5,488.8 420.2,488.9 420.9,488.9 421.6,488.9 422.3,488.9 423,488.9 423.7,489 424.4,489 425.1,489 425.8,489 426.5,489.1 427.2,489.1 427.9,489.1 428.6,489.1 429.3,489.1 430,489.1 430.7,489.1 431.4,489.2 432.1,489.2 432.8,489.2 433.5,489.2 434.2,489.2 434.9,489.2 435.6,489.2 436.3,489.2 437,489.2 437.7,489.2 438.4,489.3 439.1,489.3 439.8,489.3 440.5,489.3 441.2,489.3 441.9,489.3 442.6,489.3 443.3,489.3 444,489.3 444.7,489.4 445.4,489.4 446.1,489.4 446.8,489.4" fill="none" stroke="#555" stroke-width="0.9" stroke-linejoin="round"/>
<path d="M305,443.9 305.4,444.3 305.8,443.8 306.2,443.1 306.6,444.4 307,443.5 307.4,443.9 307.8,443.4 308.2,443.5 308.6,443.7 309,444.1 309.4,444.1 309.8,443.6 310.2,444 310.6,443.6 311,443.8 311.4,443.8 311.8,443.9 312.2,443.5 312.6,443.7 313,443.8 313.4,443.7 313.8,443.4 314.2,444.2 314.6,443.5 315,443.9 315.4,443.7 315.8,444 316.2,442.8 316.6,444.3 317,443.5 317.4,443.1 317.8,443.5 318.2,444.3 318.6,443.6 319,443 319.4,443.3 319.8,443.9 320.2,442.9 320.6,443.3 321,443.3 321.4,444.1 321.8,443.2 322.2,443.8 322.6,443.1 323,443 323.4,443.6 323.8,443.5 324.2,442.6 324.6,443.5 325,443.4 325.4,443 325.8,443.2 326.2,443.2 326.6,442.9 327,442.7 327.4,442.6 327.8,442.7 328.2,442.3 328.6,442.6 329,442 329.4,442.5 329.8,442.4 330.2,442 330.6,442.6 331,442.9 331.4,442.6 331.8,441.6 332.2,442.5 332.6,442 333,441.8 333.4,441.6 333.8,441.7 334.2,442.1 334.6,441.8 335,441.3 335.4,441.1 335.8,441 336.2,441.2 336.6,441.5 337,440.2 337.4,440.4 337.8,440.1 338.2,439.8 338.6,440 339,439.9 339.4,439 339.8,438.6 340.2,438.8 340.6,437.8 341,437.2 341.4,436.1 341.8,435.5 342.2,435.2 342.6,434.1 343,432.7 343.4,430.8 343.8,428.8 344.2,425.4 344.6,423.7 345,420.6 345.4,416.8 345.8,413.9 346.2,410.3 346.6,407.2 347,403.7 347.4,398.6 347.8,394.9 348.2,393.4 348.6,389.2 349,386 349.4,382.6 349.8,380.8 350.2,375.2 350.6,374.6 351,371.6 351.4,372.2 351.8,371.9" fill="none" stroke="#111" stroke-width="1.3" stroke-linejoin="round"/>
<path d="M350,376.1 350.4,375.4 350.8,372.6 351.2,371.6 351.6,371 352,368.5 352.4,368.4 352.8,370.5 353.2,370.6 353.6,368.4 354,367.4 354.4,372.8 354.8,371.5 355.2,370.7 355.6,369.4 356,371.2 356.4,373.5 356.8,373.1 357.2,377.7 357.6,377 358,378.6 358.4,378.1 358.8,379.6 359.2,381 359.6,383.7 360,384.6 360.4,386 360.8,388.2 361.2,389.5 361.6,392.3 362,392 362.4,392.5 362.8,395 363.2,397.8 363.6,397.2 364,399.2 364.4,400.2 364.8,402.3 365.2,403.6 365.6,404.1 366,406 366.4,408.3 366.8,409.7 367.2,410.9 367.6,412.2 368,412.6 368.4,413.9 368.8,416.2 369.2,416 369.6,418.1 370,418.2 370.4,420.6 370.8,421.5 371.2,422.2 371.6,424.3 372,424.5 372.4,425.8 372.8,426.8 373.2,427.4 373.6,429.2 374,428.7 374.4,429.7 374.8,429.5 375.2,430.6 375.6,431.1 376,431.6 376.4,431.9 376.8,432.7 377.2,433.8 377.6,433.4 378,433.9 378.4,434.2 378.8,435.9 379.2,435.7 379.6,435.5 380,435.8 380.4,435.4 380.8,435.9 381.2,436.4 381.6,436.6 382,436.4 382.4,436.6 382.8,437.4 383.2,437.5 383.6,436.7 384,437.8 384.4,438.5 384.8,437.9 385.2,438.5 385.6,438 386,439.1 386.4,438.4 386.8,438.5 387.2,439 387.6,440.2 388,439 388.4,438.9 388.8,439.7 389.2,439.7 389.6,440.4 390,439.3 390.4,439.3 390.8,439.9 391.2,440.2 391.6,440.3 392,440.7 392.4,439.8 392.8,440.1 393.2,440.4 393.6,440.9 394,440.8 394.4,440.5 394.8,440.3 395.2,441.1 395.6,441.2 396,441.9 396.4,440.9 396.8,441.6 397.2,440.6 397.6,440.9 398,440.9 398.4,441.1 398.8,441 399.2,441.2 399.6,441.4 400,441.3 400.4,441.8 400.8,441.5 401.2,441.5 401.6,442.1 402,441.7 402.4,441.7 402.8,441.6 403.2,441.7 403.6,441.9 404,441.4 404.4,442.1 404.8,442.3 405.2,442.2 405.6,441.6 406,441.2 406.4,441.6 406.8,441.9 407.2,442.2 407.6,441.8 408,441.8 408.4,442.5 408.8,441.7 409.2,442.3 409.6,442.3 410,441.5 410.4,442.1 410.8,441.8 411.2,441.7 411.6,441.4 412,441.5 412.4,442.3 412.8,442 413.2,442.2 413.6,441.8 414,442.1 414.4,442.1 414.8,441.7 415.2,441.6 415.6,442.4 416,442.3 416.4,442 416.8,442.3 417.2,442.6 417.6,443 418,442.1 418.4,442.6 418.8,443.2 419.2,442.5 419.6,443 420,441.5 420.4,443 420.8,442.5 421.2,441.8 421.6,442.8 422,442.9 422.4,443 422.8,443 423.2,442.5 423.6,442.3 424,442.4 424.4,442.5 424.8,442.7 425.2,442.4 425.6,442.6 426,442.9 426.4,442.7 426.8,443.4 427.2,443.4 427.6,442.2 428,442.4 428.4,442.1 428.8,442.2 429.2,442.8 429.6,442.3 430,442.3 430.4,442.5 430.8,442.9 431.2,442.5 431.6,442.5 432,443 432.4,442.8 432.8,442.8 433.2,443 433.6,442.3 434,442.8 434.4,442.5 434.8,443.1 435.2,443 435.6,442.3 436,443.2 436.4,442.3 436.8,443.2 437.2,442.8 437.6,442.4 438,442.4 438.4,442.7 438.8,442.8 439.2,442.5 439.6,443 440,442.3 440.4,442.8 440.8,442.8 441.2,442.1 441.6,442.9 442,442.4 442.4,441.9 442.8,442.6 443.2,442.8 443.6,443.2 444,442.7 444.4,443.4 444.8,443.4 445.2,443.3 445.6,443.3 446,443 446.4,442.7 446.8,443.1" fill="none" stroke="#111" stroke-width="2.1" stroke-linejoin="round"/>
<path d="M305,444.2 305.4,443.8 305.8,443.5 306.2,442.8 306.6,444 307,443.8 307.4,442.9 307.8,443.6 308.2,443.9 308.6,443.5 309,443.9 309.4,443.9 309.8,442.7 310.2,443.3 310.6,443.7 311,443.9 311.4,444.1 311.8,442.4 312.2,443.3 312.6,443.7 313,443.9 313.4,444.2 313.8,442.8 314.2,443.1 314.6,442.7 315,443.6 315.4,442.5 315.8,443.8 316.2,443.6 316.6,443.4 317,442 317.4,442.8 317.8,443.5 318.2,442.3 318.6,442.9 319,443 319.4,443.5 319.8,443.1 320.2,443.1 320.6,442.7 321,442.9 321.4,442.8 321.8,443.2 322.2,442.7 322.6,443.3 323,441.8 323.4,443.3 323.8,442.5 324.2,443.1 324.6,442.5 325,442.9 325.4,443.2 325.8,442.1 326.2,442.4 326.6,442.2 327,442.4 327.4,441.3 327.8,442.1 328.2,442 328.6,441.6 329,441.9 329.4,441.1 329.8,442.7 330.2,442.2 330.6,442.9 331,441.3 331.4,441.1 331.8,441.9 332.2,440.8 332.6,441.8 333,441.2 333.4,441.4 333.8,441.7 334.2,441.5 334.6,442.4 335,441.5 335.4,440.1 335.8,441.3 336.2,439.7 336.6,440.3 337,439.3 337.4,439.3 337.8,440.5 338.2,439.1 338.6,438.8 339,438.7 339.4,438.6 339.8,439.5 340.2,437.6 340.6,437.4 341,438.4 341.4,436.7 341.8,437.3 342.2,438.1 342.6,437.1 343,436.5 343.4,435.9 343.8,435.3 344.2,435.1 344.6,435.2 345,435.6 345.4,434.9 345.8,433.3 346.2,432.7 346.6,433.4 347,430.8 347.4,431.5 347.8,431.1 348.2,429.9 348.6,429.4 349,430.1 349.4,427.8 349.8,428 350.2,427.9 350.6,428.2 351,426.4 351.4,428.5 351.8,426.7 352.2,426.4 352.6,425.9 353,425.3 353.4,424.6 353.8,426.5 354.2,425.2 354.6,424.5 355,425.4 355.4,423.2 355.8,424.4 356.2,423.7 356.6,423.1 357,425.3 357.4,423.3 357.8,425.9 358.2,424.7 358.6,426.4 359,427.8 359.4,427.4 359.8,426.6 360.2,427.6 360.6,427.7 361,427.3 361.4,427.8 361.8,429.2 362.2,430 362.6,428.3 363,430.2 363.4,431 363.8,431 364.2,430.3 364.6,432.2 365,430.5 365.4,432.2 365.8,433.2 366.2,430.2 366.6,432.3 367,432.5 367.4,432.6 367.8,431.9 368.2,432.4 368.6,431.7 369,433.1 369.4,433.5 369.8,432.7 370.2,432.6 370.6,433.1 371,433.5 371.4,433.7 371.8,433.7 372.2,434 372.6,433 373,432 373.4,434.8 373.8,435.5 374.2,433.4 374.6,434.1 375,435 375.4,435.6 375.8,435.5 376.2,436.1 376.6,435.2 377,435.7 377.4,435.8 377.8,435.2 378.2,436.5 378.6,436.1 379,436.4 379.4,435.5 379.8,436.6 380.2,435.1 380.6,436.2 381,434.1 381.4,435.4 381.8,436.7 382.2,435.9 382.6,436.4 383,435.2 383.4,437.5 383.8,436.9 384.2,436.5 384.6,436.9 385,436.9 385.4,437.7 385.8,436.9 386.2,435.8 386.6,436.7 387,437.9 387.4,437.4 387.8,436.8 388.2,437.6 388.6,437.3 389,437.7 389.4,436.3 389.8,436.8 390.2,437.9 390.6,437.3 391,437.8 391.4,438.9 391.8,437.4 392.2,437.8 392.6,437.3 393,437.3 393.4,437.7 393.8,436.8 394.2,436.4 394.6,438.8 395,437.9 395.4,438.7 395.8,438.1 396.2,438.2 396.6,438.5 397,438.6 397.4,437.4 397.8,439 398.2,437.6 398.6,438.4 399,440 399.4,438.4 399.8,439.5 400.2,438.2 400.6,438.8 401,438.5 401.4,438.7 401.8,437.9 402.2,437.8 402.6,438.7 403,437.4 403.4,437.9 403.8,438.9 404.2,438.1 404.6,437.9 405,437.7 405.4,438.6 405.8,438.2 406.2,438.6 406.6,438.3 407,439.7 407.4,438.2 407.8,437.2 408.2,438.6 408.6,438.5 409,438.6 409.4,437.4 409.8,439.2 410.2,438.5 410.6,438.5 411,437.5 411.4,438.8 411.8,438.5 412.2,439.4 412.6,438.2 413,437.7 413.4,438.6 413.8,437.9 414.2,438.8 414.6,437.8 415,438.4 415.4,438.4 415.8,438.5 416.2,438.2 416.6,438 417,438.5 417.4,438.1 417.8,438.6 418.2,438.4 418.6,437.1 419,438.5 419.4,439.4 419.8,438.7 420.2,438.9 420.6,438.8 421,438.2 421.4,437.7 421.8,439 422.2,439.2 422.6,438.9 423,438.8 423.4,438.8 423.8,438.5 424.2,438.7 424.6,438.5 425,438.7 425.4,437.9 425.8,438.1 426.2,438.9 426.6,438.3 427,437 427.4,438.6 427.8,437 428.2,439.7 428.6,439 429,438.9 429.4,438.1 429.8,437.8 430.2,438.4 430.6,438.5 431,438 431.4,438.6 431.8,438.9 432.2,438.9 432.6,437.8 433,437.1 433.4,438.5 433.8,438.1 434.2,438.8 434.6,439.5 435,439.5 435.4,438.7 435.8,439.2 436.2,439.5 436.6,438.5 437,438.7 437.4,439 437.8,438.5 438.2,438.2 438.6,438 439,438.5 439.4,438.1 439.8,439 440.2,438.3 440.6,439.4 441,439.2 441.4,437.7 441.8,439.2 442.2,438.2 442.6,439.3 443,438.8 443.4,438.4 443.8,438.9 444.2,438.1 444.6,438.7 445,438.7 445.4,438.4 445.8,438.7 446.2,437.8 446.6,438.8" fill="none" stroke="#9a1887" stroke-width="1.8" stroke-linejoin="round"/>
</svg></body></html>
